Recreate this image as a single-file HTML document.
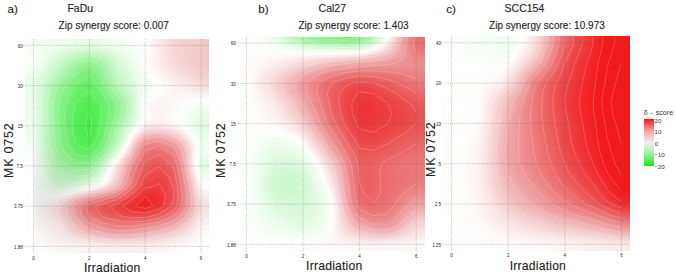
<!DOCTYPE html><html><head><meta charset="utf-8"><style>
*{margin:0;padding:0}
html,body{width:676px;height:276px;background:#fff;overflow:hidden;position:relative;font-family:"Liberation Sans",sans-serif;color:#222}
.hm{position:absolute;overflow:hidden}
.hm i{position:absolute;left:0;width:100%;height:2px;display:block}
.ov{position:absolute;left:0;top:0}
.tk{font-size:4.5px;fill:#222;font-family:"Liberation Sans",sans-serif}
.t{position:absolute;white-space:nowrap;line-height:1;-webkit-text-stroke:0.12px #222}
.yl{position:absolute;white-space:nowrap;line-height:1;-webkit-text-stroke:0.12px #222;transform-origin:0 0;transform:rotate(-90deg)}
</style></head><body>
<div class="hm" style="left:25.02px;top:39.09px;width:184.47px;height:213.62px">
<i style="top:0px;background:linear-gradient(90deg,#fafefa 0px,#edfced 41px,#e4fbe4 65px,#f8fef8 104px,#fffefe 121px,#f6d3d3 150px,#f3c6c7 181px,#f3c5c5 185px)"></i>
<i style="top:2px;background:linear-gradient(90deg,#fafefa 0px,#edfced 42px,#e6fbe6 66px,#f8fef8 104px,#fffefe 121px,#f6d3d4 150px,#f4c7c7 181px,#f3c6c6 185px)"></i>
<i style="top:4px;background:linear-gradient(90deg,#fafefa 0px,#edfced 39px,#e4fbe4 65px,#f8fef8 105px,#fffdfd 122px,#f6d4d4 150px,#f4c7c7 181px,#f3c6c6 185px)"></i>
<i style="top:6px;background:linear-gradient(90deg,#fafefa 0px,#f0fdf0 30px,#e0fae0 64px,#f7fef7 105px,#fffefe 121px,#f6d4d4 150px,#f4c7c7 181px,#f3c6c6 185px)"></i>
<i style="top:8px;background:linear-gradient(90deg,#fafefa 0px,#f1fdf1 25px,#dafada 63px,#e6fbe6 81px,#f6fef6 104px,#fffefe 121px,#f6d4d5 150px,#f4c7c7 181px,#f3c6c6 185px)"></i>
<i style="top:10px;background:linear-gradient(90deg,#fafefa 0px,#f1fdf1 22px,#d2f9d2 62px,#dafada 76px,#f2fdf2 99px,#fffefe 121px,#f6d5d5 150px,#f4c7c7 180px,#f3c6c6 185px)"></i>
<i style="top:12px;background:linear-gradient(90deg,#fbfefb 0px,#f3fdf3 19px,#caf8ca 61px,#cff8cf 73px,#eefcee 97px,#fffdfd 121px,#f6d5d5 150px,#f4c7c7 180px,#f3c5c6 185px)"></i>
<i style="top:14px;background:linear-gradient(90deg,#fcfefc 0px,#f4fdf4 17px,#cef8ce 48px,#c0f6c0 62px,#c7f7c7 73px,#eafcea 96px,#fffefe 120px,#f6d5d5 151px,#f3c6c6 181px,#f3c5c6 185px)"></i>
<i style="top:16px;background:linear-gradient(90deg,#fcfffc 0px,#f4fdf4 16px,#cbf8cb 46px,#b6f5b6 61px,#bbf6bb 71px,#e6fbe6 96px,#fffefe 120px,#f6d5d5 151px,#f3c6c6 180px,#f3c5c5 185px)"></i>
<i style="top:18px;background:linear-gradient(90deg,#fcfffc 0px,#f5fef5 14px,#c8f7c8 44px,#aef4ae 59px,#aef4ae 68px,#c8f7c8 82px,#e4fbe4 97px,#fffefe 120px,#f6d6d6 151px,#f3c6c6 180px,#f3c5c5 185px)"></i>
<i style="top:20px;background:linear-gradient(90deg,#fdfffd 0px,#f6fef6 13px,#c1f7c1 44px,#a4f4a4 59px,#a4f4a4 68px,#bdf6bd 80px,#dcfadc 94px,#fffefe 120px,#f6d7d7 151px,#f3c6c6 180px,#f3c5c5 185px)"></i>
<i style="top:22px;background:linear-gradient(90deg,#fdfffd 0px,#f6fef6 12px,#c3f7c3 41px,#9df39d 58px,#9af39a 66px,#abf4ab 76px,#d7f9d7 93px,#fffefe 120px,#f7d8d9 150px,#f4c7c7 178px,#f3c5c6 185px)"></i>
<i style="top:24px;background:linear-gradient(90deg,#fcfffc 0px,#f6fef6 12px,#bdf6bd 41px,#97f297 57px,#91f291 65px,#9ff39f 74px,#d4f9d4 93px,#ffffff 120px,#f7dbdb 149px,#f4c7c7 178px,#f3c6c6 185px)"></i>
<i style="top:26px;background:linear-gradient(90deg,#fcfefc 0px,#f6fef6 11px,#caf8ca 33px,#8ff28f 58px,#8cf18c 66px,#9df39d 75px,#d1f8d1 93px,#ffffff 120px,#f7dada 151px,#f4c8c8 179px,#f4c7c7 185px)"></i>
<i style="top:28px;background:linear-gradient(90deg,#fafefa 0px,#f6fef6 10px,#d4f9d4 27px,#a0f3a0 48px,#88f188 59px,#87f187 67px,#9ef39e 77px,#cef8ce 93px,#fefffe 120px,#f6d6d6 157px,#f4c8c9 182px,#f4c8c8 185px)"></i>
<i style="top:30px;background:linear-gradient(90deg,#f9fef9 0px,#f4fdf4 10px,#d2f9d2 26px,#86f186 57px,#81f181 65px,#8ef28e 73px,#ccf8cc 93px,#fbfefb 119px,#fffdfd 123px,#f7d8d8 157px,#f4c9ca 182px,#f4c9ca 185px)"></i>
<i style="top:32px;background:linear-gradient(90deg,#f6fef6 0px,#f2fdf2 10px,#cef8ce 26px,#81f181 57px,#7df07d 65px,#8bf18b 73px,#c8f7c8 92px,#f5fdf5 116px,#fffefe 124px,#f6d4d4 164px,#f4cbcb 185px)"></i>
<i style="top:34px;background:linear-gradient(90deg,#f4fdf4 0px,#f1fdf1 9px,#d2f9d2 23px,#7ff17f 56px,#78f078 64px,#85f185 72px,#c8f7c8 93px,#f5fdf5 117px,#fffefe 125px,#f5d1d2 170px,#f5cccd 185px)"></i>
<i style="top:36px;background:linear-gradient(90deg,#f2fdf2 0px,#eefdee 9px,#d1f9d1 22px,#7bf07b 56px,#75f075 64px,#82f182 72px,#c4f7c4 92px,#f0fdf0 115px,#ffffff 126px,#f5d1d2 173px,#f5cecf 185px)"></i>
<i style="top:38px;background:linear-gradient(90deg,#effdef 0px,#edfced 8px,#d4f9d4 20px,#81f181 51px,#72f072 61px,#76f076 68px,#92f292 78px,#c2f7c2 92px,#edfced 114px,#fffefe 128px,#f6d3d3 174px,#f5d0d1 185px)"></i>
<i style="top:40px;background:linear-gradient(90deg,#edfced 0px,#ebfceb 8px,#d0f8d0 20px,#9cf39c 39px,#74f074 56px,#6ff06f 64px,#7cf07c 72px,#c0f6c0 92px,#ecfcec 114px,#fffefe 129px,#f6d5d5 175px,#f6d3d3 185px)"></i>
<i style="top:42px;background:linear-gradient(90deg,#ebfceb 0px,#eafcea 8px,#d1f8d1 19px,#9cf39c 37px,#70f070 56px,#6cef6c 64px,#79f079 72px,#bef6be 92px,#eafcea 114px,#ffffff 130px,#f6d7d7 176px,#f6d6d6 185px)"></i>
<i style="top:44px;background:linear-gradient(90deg,#eafcea 0px,#e8fce8 8px,#cef8ce 19px,#99f299 37px,#6ff06f 55px,#69ef69 64px,#77f077 72px,#bdf6bd 93px,#edfced 116px,#fffefe 131px,#f7dada 176px,#f7d8d9 185px)"></i>
<i style="top:46px;background:linear-gradient(90deg,#e9fce9 0px,#e9fce9 7px,#d3f9d3 17px,#97f297 36px,#6cef6c 55px,#66ef66 64px,#74f074 72px,#baf6ba 93px,#ecfcec 116px,#ffffff 131px,#f8dddd 177px,#f7dcdc 185px)"></i>
<i style="top:48px;background:linear-gradient(90deg,#e9fce9 0px,#e9fce9 7px,#d2f9d2 17px,#94f294 36px,#69ef69 55px,#63ef63 64px,#70f070 72px,#b9f6b9 94px,#eefcee 117px,#fffefe 131px,#f8e1e1 177px,#f8e0e0 185px)"></i>
<i style="top:50px;background:linear-gradient(90deg,#e9fce9 0px,#e9fce9 7px,#d4f9d4 16px,#91f291 36px,#66ef66 55px,#61ef61 64px,#6def6d 72px,#b7f5b7 95px,#eefdee 117px,#ffffff 130px,#f9e5e5 178px,#f9e4e5 185px)"></i>
<i style="top:52px;background:linear-gradient(90deg,#eafcea 0px,#eafcea 7px,#d4f9d4 16px,#91f291 35px,#65ef65 54px,#5eef5e 64px,#6def6d 73px,#d2f9d2 106px,#f5fdf5 120px,#fffefe 129px,#faebeb 177px,#fae9ea 185px)"></i>
<i style="top:54px;background:linear-gradient(90deg,#eafcea 0px,#ebfceb 7px,#d4f9d4 16px,#8ff28f 35px,#63ef63 54px,#5cef5c 64px,#69ef69 73px,#f0fdf0 117px,#fffefe 127px,#fcf1f1 164px,#fbefef 185px)"></i>
<i style="top:56px;background:linear-gradient(90deg,#ebfceb 0px,#edfced 6px,#dbfadb 14px,#8df18d 35px,#61ef61 54px,#5aef5a 64px,#66ef66 73px,#b8f6b8 100px,#f1fdf1 117px,#ffffff 125px,#fdf7f7 140px,#fdf4f5 185px)"></i>
<i style="top:58px;background:linear-gradient(90deg,#ecfcec 0px,#eefcee 6px,#dbfadb 14px,#8bf18b 35px,#61ef61 53px,#58ee58 63px,#61ef61 72px,#8df28d 88px,#bbf6bb 102px,#f2fdf2 117px,#fffefe 124px,#fdf6f6 136px,#fefafa 185px)"></i>
<i style="top:60px;background:linear-gradient(90deg,#edfced 0px,#effdef 6px,#dcfadc 14px,#8cf18c 34px,#61ef61 52px,#56ee56 63px,#60ef60 73px,#8ef28e 90px,#b8f6b8 102px,#f0fdf0 116px,#fefffe 122px,#fdf5f5 133px,#fdfffd 179px,#fefefe 185px)"></i>
<i style="top:62px;background:linear-gradient(90deg,#eefcee 0px,#f0fdf0 6px,#dcfadc 14px,#8bf18b 34px,#5fef5f 52px,#55ee55 63px,#5eef5e 73px,#87f187 89px,#adf4ad 100px,#f1fdf1 116px,#fefffe 121px,#fcf4f4 132px,#fdfffd 167px,#fafefa 185px)"></i>
<i style="top:64px;background:linear-gradient(90deg,#effdef 0px,#f0fdf0 6px,#ddfadd 14px,#89f189 34px,#5fef5f 51px,#53ee53 62px,#5aef5a 72px,#7bf07b 86px,#a3f3a3 98px,#f2fdf2 116px,#fffefe 121px,#fcf3f3 130px,#fdfffd 163px,#f5fef5 182px,#f7fef7 185px)"></i>
<i style="top:66px;background:linear-gradient(90deg,#effdef 0px,#f1fdf1 6px,#ddfadd 14px,#88f188 34px,#5eef5e 51px,#51ee51 62px,#58ef58 72px,#7af07a 86px,#a2f3a2 98px,#f3fdf3 116px,#ffffff 120px,#fcf2f2 129px,#fefafa 153px,#fdfffd 161px,#f2fdf2 180px,#f3fdf3 185px)"></i>
<i style="top:68px;background:linear-gradient(90deg,#effdef 0px,#f1fdf1 6px,#ddfadd 14px,#87f187 34px,#5cef5c 51px,#50ee50 62px,#57ee57 72px,#79f079 86px,#a2f3a2 98px,#f4fdf4 116px,#fffefe 120px,#fcf2f2 128px,#fdf5f5 142px,#fdfffd 159px,#effdef 179px,#f1fdf1 185px)"></i>
<i style="top:70px;background:linear-gradient(90deg,#effdef 0px,#f1fdf1 6px,#e0fae0 13px,#87f187 34px,#5bee5b 51px,#4eee4e 62px,#56ee56 72px,#79f079 86px,#a2f3a2 98px,#f4fdf4 116px,#fffefe 120px,#fcf2f2 128px,#fdf5f5 142px,#fefffe 157px,#ecfcec 178px,#eefcee 185px)"></i>
<i style="top:72px;background:linear-gradient(90deg,#effdef 0px,#f1fdf1 6px,#e0fae0 13px,#86f186 34px,#58ee58 52px,#4dee4d 62px,#53ee53 71px,#74f074 84px,#a4f4a4 98px,#f4fdf4 116px,#fffefe 120px,#fcf1f2 129px,#fefafa 149px,#fefffe 156px,#eafcea 178px,#ebfceb 185px)"></i>
<i style="top:74px;background:linear-gradient(90deg,#effdef 0px,#f1fdf1 6px,#dcf9dc 14px,#86f086 34px,#57ee57 52px,#4bee4b 62px,#53ee53 71px,#75f075 84px,#aaf4aa 99px,#f4fdf4 116px,#ffffff 120px,#fcf2f2 129px,#fefafa 147px,#fefffe 155px,#e8fce8 178px,#e9fce9 185px)"></i>
<i style="top:76px;background:linear-gradient(90deg,#effdef 0px,#f1fdf1 6px,#dcf9dc 14px,#86f086 34px,#56ee56 52px,#4aee4a 62px,#52ee52 71px,#77f077 84px,#b1f5b1 100px,#f5fdf5 116px,#ffffff 120px,#fcf2f2 129px,#fefafa 146px,#fefffe 154px,#e6fbe6 177px,#e7fbe7 185px)"></i>
<i style="top:78px;background:linear-gradient(90deg,#effdef 0px,#f1fdf1 6px,#dcf9dc 14px,#86f086 34px,#53ee53 53px,#49ee49 63px,#52ee52 71px,#76f076 83px,#b8f6b8 101px,#f5fef5 116px,#fffefe 120px,#fcf2f2 129px,#fef9fa 146px,#fefffe 154px,#e4fbe4 177px,#e5fbe5 185px)"></i>
<i style="top:80px;background:linear-gradient(90deg,#effdef 0px,#f1fdf1 6px,#dcf9dc 14px,#83f083 35px,#52ee52 53px,#48ee48 62px,#4fee4f 70px,#70f070 81px,#c4f7c4 103px,#f7fef7 116px,#ffffff 119px,#fcf1f1 128px,#fdf5f5 142px,#fefffe 154px,#e3fbe3 177px,#e4fbe4 185px)"></i>
<i style="top:82px;background:linear-gradient(90deg,#effdef 0px,#f1fdf1 6px,#dcf9dc 14px,#84f084 35px,#52ee52 53px,#47ee47 62px,#4fee4f 70px,#72f072 81px,#d4f9d4 106px,#fcfffc 117px,#fefcfc 119px,#fbefef 128px,#fcf3f3 142px,#fefffe 155px,#e2fbe2 176px,#e3fbe3 185px)"></i>
<i style="top:84px;background:linear-gradient(90deg,#effdef 0px,#f1fdf1 6px,#dcf9dc 14px,#84f084 35px,#51ee51 53px,#47ee47 62px,#4fee4f 70px,#74f074 81px,#fafefa 115px,#fffefe 117px,#fbeded 126px,#fbeced 138px,#fdfffd 157px,#e2fbe2 176px,#e3fbe3 185px)"></i>
<i style="top:86px;background:linear-gradient(90deg,#f0fdf0 0px,#f1fdf1 6px,#dcf8dc 14px,#84ef84 35px,#4fee4f 54px,#47ee47 63px,#52ee52 71px,#7ef07e 83px,#fbfefb 114px,#fefcfc 116px,#fae9e9 124px,#f9e5e6 135px,#fdf8f8 154px,#fefffe 158px,#e2fbe2 175px,#e2fbe2 184px,#e3fbe3 185px)"></i>
<i style="top:88px;background:linear-gradient(90deg,#f0fdf0 0px,#f1fdf1 6px,#dcf8dc 14px,#85ef85 35px,#4fed4f 54px,#47ee47 63px,#50ee50 70px,#73f073 80px,#fdfffd 113px,#f9e4e5 122px,#f8dddd 132px,#fbeded 151px,#fefffe 160px,#e3fbe3 175px,#e2fbe2 184px,#e3fbe3 185px)"></i>
<i style="top:90px;background:linear-gradient(90deg,#f0fdf0 0px,#f2fdf2 6px,#dcf8dc 14px,#85ef85 35px,#50ed50 54px,#47ed47 63px,#51ee51 70px,#74f074 80px,#ddfadd 104px,#fdfffd 111px,#fdf8f8 113px,#f8dfdf 120px,#f6d4d4 129px,#f7dadb 142px,#fbeeee 155px,#fefffe 162px,#e5fbe5 175px,#e3fbe3 184px,#e5fbe5 185px)"></i>
<i style="top:92px;background:linear-gradient(90deg,#f1fdf1 0px,#f2fdf2 6px,#dff8df 13px,#85ef85 35px,#50ed50 54px,#48ed48 63px,#52ee52 70px,#75f075 80px,#d8f9d8 102px,#fbfefb 109px,#fefdfd 110px,#f7dada 118px,#f4cacb 126px,#f4cbcb 137px,#f8e1e1 153px,#fefffe 164px,#e5fbe5 176px,#e5fbe5 184px,#e7fbe7 185px)"></i>
<i style="top:94px;background:linear-gradient(90deg,#f1fdf1 0px,#f3fdf3 6px,#e0f8e0 13px,#86ef86 35px,#50ed50 54px,#48ed48 62px,#50ee50 69px,#6eef6e 78px,#d3f9d3 100px,#fdfefd 108px,#f6d2d2 117px,#f3c1c1 124px,#f2bdbe 134px,#f6d3d3 151px,#fffefe 165px,#e7fbe7 177px,#e7fce7 184px,#e9fce9 185px)"></i>
<i style="top:96px;background:linear-gradient(90deg,#f2fdf2 0px,#f3fdf3 6px,#e3f8e3 12px,#a9f1a9 26px,#80ee80 37px,#51ed51 54px,#49ed49 62px,#51ee51 69px,#70ef70 78px,#d2f9d2 99px,#fafefa 106px,#fefdfd 107px,#f5cfcf 115px,#f1b8b8 122px,#f0b0b1 131px,#f2bdbd 144px,#f5d1d1 154px,#fefefe 167px,#e9fce9 177px,#eafcea 184px,#ecfcec 185px)"></i>
<i style="top:98px;background:linear-gradient(90deg,#f3fdf3 0px,#f4fdf4 6px,#e6f8e6 11px,#bcf3bc 22px,#87ee87 35px,#52ed52 54px,#4aed4a 62px,#53ee53 69px,#71ef71 78px,#d1f8d1 98px,#fbfefb 105px,#fefcfc 106px,#f4c9c9 114px,#f0b1b1 120px,#efa5a5 128px,#efaaab 139px,#f3c1c2 152px,#fffefe 168px,#ebfceb 178px,#eefcee 185px)"></i>
<i style="top:100px;background:linear-gradient(90deg,#f3fdf3 0px,#f4fdf4 6px,#eefbee 9px,#bcf2bc 22px,#88ee88 35px,#54ec54 54px,#4ced4c 62px,#55ee55 69px,#74ef74 78px,#d0f8d0 97px,#fcfffc 104px,#fefbfb 105px,#f3c4c4 113px,#efa8a9 119px,#ee9a9a 127px,#ee9d9d 137px,#f1b8b8 152px,#fbecec 165px,#fefdfd 169px,#fbfefb 171px,#ecfcec 179px,#f1fdf1 185px)"></i>
<i style="top:102px;background:linear-gradient(90deg,#f4fdf4 0px,#f5fef5 6px,#effbef 9px,#b8f1b8 23px,#89ed89 35px,#55ec55 54px,#4eed4e 62px,#57ee57 69px,#76f076 78px,#d5f9d5 97px,#fcfefc 103px,#fefbfb 104px,#f2c0c0 112px,#eea1a2 118px,#ed9192 125px,#ed8f90 134px,#efa7a8 149px,#f3c6c7 158px,#fefdfd 170px,#f8fef8 173px,#edfced 180px,#f3fdf3 185px)"></i>
<i style="top:104px;background:linear-gradient(90deg,#f5fdf5 0px,#f6fef6 6px,#effbef 9px,#c6f2c6 20px,#8ded8d 34px,#5aec5a 53px,#51ed51 62px,#5bee5b 69px,#7af07a 78px,#d4f9d4 96px,#fbfefb 102px,#fefbfb 103px,#f1b7b8 112px,#ed9899 118px,#ec8889 125px,#ec8687 134px,#ee9c9d 148px,#f1b7b7 156px,#fffefe 171px,#effdef 179px,#f4fdf4 185px)"></i>
<i style="top:106px;background:linear-gradient(90deg,#f5fef5 0px,#f7fef7 6px,#f0fbf0 9px,#def5de 14px,#8eed8e 34px,#5cec5c 53px,#54ed54 62px,#5eee5e 69px,#7ef07e 78px,#dafada 96px,#fbfefb 101px,#fefcfc 102px,#f1b6b6 111px,#ed9191 118px,#ec8081 125px,#ec7e7f 134px,#ed9394 147px,#efa8a9 154px,#fefcfc 171px,#fefffe 172px,#effdef 179px,#f3fdf3 184px,#f5fdf5 185px)"></i>
<i style="top:108px;background:linear-gradient(90deg,#f6fef6 0px,#f8fef8 6px,#f1fbf1 9px,#e5f6e5 12px,#8dec8d 35px,#5fec5f 53px,#58ed58 62px,#63ee63 69px,#84f084 78px,#e0fae0 96px,#fbfefb 100px,#fefcfc 101px,#f0afaf 111px,#ec8a8b 118px,#eb7a7b 125px,#eb7879 134px,#ec8d8d 147px,#eea3a3 154px,#fefbfb 171px,#fefffe 172px,#effdef 179px,#f2fdf2 184px,#f5fdf5 185px)"></i>
<i style="top:110px;background:linear-gradient(90deg,#f7fef7 0px,#f9fef9 6px,#f2fbf2 9px,#e6f5e6 12px,#8fec8f 35px,#63ec63 53px,#5ded5d 62px,#68ee68 69px,#8af18a 78px,#eefcee 97px,#fbfefb 99px,#fefbfb 100px,#f0afaf 110px,#ec8889 117px,#eb7677 124px,#eb7273 133px,#ec8283 145px,#ed999a 153px,#f5cfcf 163px,#fefbfb 171px,#fefffe 172px,#effdef 178px,#effdef 183px,#f4fdf4 185px)"></i>
<i style="top:112px;background:linear-gradient(90deg,#f8fef8 0px,#fafefa 6px,#f3fbf3 9px,#e9f5e9 11px,#b9eeb9 24px,#91eb91 35px,#67eb67 53px,#62ed62 62px,#6eee6e 69px,#91f191 78px,#f7fef7 97px,#fdfffd 98px,#fcf2f2 100px,#eea2a2 111px,#ec7f80 118px,#eb6f70 126px,#eb6f70 136px,#ec8485 148px,#ee9e9f 155px,#fefcfc 171px,#f9fef9 173px,#ecfcec 179px,#f0fdf0 184px,#f3fdf3 185px)"></i>
<i style="top:114px;background:linear-gradient(90deg,#fafefa 0px,#fbfefb 6px,#f4fbf4 9px,#eaf5ea 11px,#b6edb6 25px,#91eb91 36px,#6ceb6c 53px,#68ed68 62px,#75ee75 69px,#99f299 78px,#fefdfc 97px,#ee9b9c 111px,#eb7b7c 118px,#eb6a6c 126px,#eb6a6b 136px,#ec7f80 148px,#ee9b9b 155px,#fffdfd 171px,#ebfceb 178px,#ecfcec 183px,#f1fdf1 185px)"></i>
<i style="top:116px;background:linear-gradient(90deg,#fbfefb 0px,#fdfffd 6px,#f5fbf5 9px,#ebf4eb 11px,#b4ecb4 26px,#93ea93 36px,#71eb71 53px,#6eed6e 62px,#7cef7c 69px,#a1f3a1 78px,#fcfefc 95px,#fefbfb 96px,#ee9b9c 110px,#eb7a7b 117px,#eb6869 125px,#eb6566 135px,#eb7576 146px,#ec8d8e 153px,#f3c3c4 162px,#ffffff 171px,#eafcea 177px,#e8fce8 182px,#effdef 185px)"></i>
<i style="top:118px;background:linear-gradient(90deg,#fcfffc 0px,#fdfffd 7px,#f6fbf6 9px,#eff5ef 10px,#c1edc1 23px,#98ea98 35px,#76eb76 53px,#75ed75 62px,#83ef83 69px,#aaf3aa 78px,#fbfefb 93px,#fefdfc 94px,#ed9696 110px,#eb7374 118px,#eb6264 127px,#eb6364 137px,#eb7677 148px,#ed8e8f 154px,#f4c9c9 163px,#fefafa 170px,#fefffe 171px,#e8fce8 177px,#e6fbe6 182px,#edfced 185px)"></i>
<i style="top:120px;background:linear-gradient(90deg,#fdfffd 0px,#fdfffd 8px,#eff4ef 10px,#bfecbf 24px,#9be99b 35px,#7ceb7c 53px,#7bed7b 62px,#8bef8b 69px,#b3f4b3 78px,#fafefa 91px,#fdfdfc 92px,#f3c6c6 101px,#ec8687 112px,#eb6c6d 119px,#eb5e5f 129px,#eb6162 139px,#eb7576 149px,#ed9192 155px,#f9e6e6 167px,#fefbfb 170px,#fdfffd 171px,#e6fbe6 177px,#e4fbe4 182px,#ecfcec 185px)"></i>
<i style="top:122px;background:linear-gradient(90deg,#fefffe 0px,#fefffe 8px,#f0f4f0 10px,#bdebbd 25px,#9ce99c 36px,#81eb81 53px,#82ed82 62px,#92f092 69px,#c0f6c0 79px,#fdfefd 90px,#fbefef 93px,#ec8b8c 110px,#eb6b6d 118px,#eb5b5d 128px,#eb5c5d 138px,#eb6e70 148px,#ec8889 154px,#f4c7c7 163px,#fefbfb 170px,#fdfffd 171px,#e5fbe5 177px,#e3fbe3 182px,#ebfceb 185px)"></i>
<i style="top:124px;background:linear-gradient(90deg,#ffffff 0px,#fefcfd 6px,#ffffff 8px,#f0f3f0 10px,#a3e9a3 34px,#88eb88 52px,#88ed88 61px,#97f097 68px,#bef5be 77px,#fbfefb 88px,#fefdfc 89px,#ec8b8c 109px,#eb6b6c 117px,#eb595a 127px,#eb595a 138px,#eb6b6c 148px,#ec8586 154px,#f2bdbe 162px,#fefbfb 170px,#fdfffd 171px,#e5fbe5 177px,#e2fbe2 182px,#eafcea 185px)"></i>
<i style="top:126px;background:linear-gradient(90deg,#ffffff 0px,#fefcfc 6px,#fffefe 8px,#f0f2f0 10px,#a8e8a8 33px,#8eeb8e 51px,#8fee8f 61px,#9ef09e 68px,#c5f6c5 77px,#fcfefc 87px,#fefbfb 88px,#ec8b8c 108px,#eb6768 117px,#eb5657 127px,#eb5557 138px,#eb6869 148px,#ec8283 154px,#f2bbbb 162px,#fefafa 170px,#fefffe 171px,#e5fbe5 177px,#e2fbe2 182px,#ebfceb 185px)"></i>
<i style="top:128px;background:linear-gradient(90deg,#fffefe 0px,#fefbfb 6px,#fffefe 8px,#fafafa 9px,#f0f2f0 10px,#abe8ab 33px,#94eb94 51px,#96ee96 61px,#a9f2a9 69px,#d6f8d6 79px,#fcfefc 86px,#fcf5f5 88px,#ec8283 109px,#eb6162 118px,#ec5153 129px,#eb5456 140px,#eb6869 149px,#ec8586 155px,#f4c9c9 164px,#fffffe 171px,#e6fbe6 177px,#e4fbe4 182px,#ecfcec 185px)"></i>
<i style="top:130px;background:linear-gradient(90deg,#fffefe 0px,#fefbfb 6px,#fffdfe 8px,#fafafa 9px,#f0f1f0 10px,#aee7ae 33px,#9aeb9a 51px,#9dee9d 61px,#b0f2b0 69px,#e1fae1 80px,#fbfefb 85px,#fefcfc 86px,#ec898a 107px,#eb6365 116px,#ec5253 125px,#ec4e4f 136px,#eb5c5e 146px,#eb7172 152px,#ee9e9f 159px,#fefcfc 171px,#f7fef7 173px,#e6fbe6 178px,#e6fbe6 182px,#eefdee 185px)"></i>
<i style="top:132px;background:linear-gradient(90deg,#fffefe 0px,#fefcfc 7px,#fffdfd 8px,#fafafa 9px,#eff0ef 10px,#b1e7b1 33px,#9feb9f 51px,#a6efa6 62px,#baf3ba 70px,#f0fcf0 82px,#fefdfd 85px,#ec8687 107px,#eb6162 116px,#ec4f51 125px,#ec4b4d 136px,#eb5a5b 146px,#eb6e70 152px,#ee9b9c 159px,#fef9f9 171px,#fefffe 172px,#ebfceb 177px,#e8fce8 182px,#f1fdf1 185px)"></i>
<i style="top:134px;background:linear-gradient(90deg,#fffefe 0px,#fefcfc 7px,#fffdfd 8px,#f9f9f9 9px,#eff0ef 10px,#b4e7b4 33px,#a6eba6 50px,#abefab 61px,#c1f4c1 70px,#f9fdf9 83px,#fdfefd 84px,#eb7f80 108px,#eb5b5c 117px,#ec4a4c 127px,#ec4a4c 138px,#eb5c5e 148px,#eb7778 154px,#f0afb0 162px,#fefcfc 172px,#fdfffd 173px,#ecfcec 178px,#ebfceb 182px,#f4fdf4 185px)"></i>
<i style="top:136px;background:linear-gradient(90deg,#ffffff 0px,#fefdfd 7px,#fffefe 8px,#f9f9f9 9px,#eeefee 10px,#b7e7b7 33px,#acebac 50px,#b4f0b4 62px,#cbf5cb 71px,#fcfefc 83px,#fbf0f0 86px,#eb7879 109px,#eb595a 117px,#ec484a 127px,#ec4849 138px,#eb5a5b 148px,#eb7475 154px,#f0acad 162px,#fdf8f8 172px,#fffefe 173px,#eefcee 179px,#f1fdf1 183px,#f8fef8 185px)"></i>
<i style="top:138px;background:linear-gradient(90deg,#ffffff 0px,#fffdfd 7px,#fffefe 8px,#f9f9f9 9px,#edeeed 10px,#bae6ba 33px,#b3ecb3 50px,#bdf1bd 62px,#d6f7d6 72px,#fcfefc 82px,#fbf1f1 85px,#eea0a1 101px,#eb6869 112px,#ec4f50 120px,#ed4445 131px,#ec4b4c 142px,#eb5f60 150px,#eb7e7f 156px,#fbeded 171px,#fefefe 174px,#f2fdf2 179px,#f4fdf4 183px,#fbfefb 185px)"></i>
<i style="top:140px;background:linear-gradient(90deg,#ffffff 0px,#fffefe 8px,#f8f9f8 9px,#edeeed 10px,#bfe6bf 32px,#b9ebb9 48px,#c4f2c4 61px,#ddf8dd 72px,#fdfdfc 81px,#f0b4b5 97px,#eb6567 112px,#ec4c4e 120px,#ed4143 131px,#ec494b 142px,#eb5d5e 150px,#ec8283 157px,#fcf0f0 172px,#fefffe 175px,#f5fdf5 180px,#fbfefb 184px,#fefffe 185px)"></i>
<i style="top:142px;background:linear-gradient(90deg,#fefffe 0px,#fffefe 8px,#f8f8f8 9px,#ecedec 10px,#c3e6c3 32px,#c0ebc0 47px,#cdf3cd 61px,#e9f9e9 73px,#fcfdfb 79px,#fbf3f3 82px,#f0b1b1 97px,#eb6364 112px,#ec4a4b 120px,#ed3f41 131px,#ec4849 142px,#eb5b5d 150px,#ec8081 157px,#fbecec 172px,#fefefe 176px,#f9fef9 181px,#fefffe 184px,#fefbfb 185px)"></i>
<i style="top:144px;background:linear-gradient(90deg,#fefffe 0px,#ffffff 8px,#f8f8f8 9px,#ecedec 10px,#c7e6c7 32px,#c7ecc7 47px,#d8f4d8 62px,#fcfbfa 77px,#f3c3c3 92px,#eb5f61 112px,#ec4749 120px,#ed3d3f 131px,#ec4648 142px,#eb5a5b 150px,#eb7e7f 157px,#fae8e8 172px,#fffefe 177px,#fdfffd 182px,#fefcfc 184px,#fdf8f8 185px)"></i>
<i style="top:146px;background:linear-gradient(90deg,#fefffe 0px,#ffffff 8px,#f8f8f8 9px,#ecedec 10px,#cbe6cb 31px,#ccebcc 44px,#e2f5e2 61px,#fafaf9 73px,#faeded 78px,#f0afb0 95px,#eb5b5d 112px,#ed4446 120px,#ee3c3d 131px,#ed4547 142px,#eb5d5e 151px,#ec8384 158px,#f9e5e5 172px,#fefbfb 177px,#fffefe 182px,#fdf4f5 185px)"></i>
<i style="top:148px;background:linear-gradient(90deg,#fdfffd 0px,#ffffff 8px,#f8f8f8 9px,#ececec 10px,#d0e7d0 31px,#d3ebd3 43px,#eef7ee 61px,#f8f8f6 67px,#f9efef 72px,#f1bcbd 89px,#ed9394 99px,#eb5658 112px,#ed4042 120px,#ee393b 131px,#ed4446 142px,#eb5c5d 151px,#ec8283 158px,#f9e2e2 172px,#fdf7f7 177px,#fefcfc 181px,#fcf2f2 185px)"></i>
<i style="top:150px;background:linear-gradient(90deg,#fdfffd 0px,#ffffff 8px,#f8f8f8 9px,#ececec 10px,#d5e7d5 30px,#daebda 41px,#f5f4f3 58px,#f7eded 64px,#f2c4c4 82px,#ed9697 96px,#ec5051 112px,#ee3c3d 120px,#ee3638 131px,#ed4344 142px,#eb5b5d 151px,#ec8182 158px,#f8dfdf 172px,#fcf4f4 177px,#fdf8f8 181px,#fbeeef 185px)"></i>
<i style="top:152px;background:linear-gradient(90deg,#fcfffc 0px,#ffffff 8px,#f8f8f8 9px,#ececec 10px,#dbe8db 30px,#e3ede3 41px,#f1f0ef 50px,#f3dfdf 61px,#efaeae 84px,#ec8586 97px,#ed4547 113px,#ee3537 121px,#ef3436 132px,#ed4647 144px,#eb5f60 152px,#ec8d8e 160px,#f7dcdc 172px,#fcf0f0 177px,#fcf4f4 182px,#fbebec 185px)"></i>
<i style="top:154px;background:linear-gradient(90deg,#fcfffc 0px,#ffffff 8px,#ececec 10px,#e0e8e0 29px,#eaedea 40px,#efebeb 45px,#ec9394 88px,#eb7071 99px,#ed3e40 113px,#ef3032 121px,#ef3133 132px,#ed4546 144px,#eb5e5f 152px,#ec8b8c 160px,#f7d9d9 172px,#fbefef 178px,#fbefef 183px,#fae8e9 185px)"></i>
<i style="top:156px;background:linear-gradient(90deg,#fbfefb 0px,#ffffff 8px,#ececec 10px,#e5e9e5 28px,#ece8e8 39px,#ecc1c1 57px,#eb7778 93px,#ee3739 113px,#f02b2d 122px,#ef3133 134px,#ec4c4e 147px,#eb6769 154px,#f4cbcb 170px,#fae6e7 176px,#fbeeee 181px,#f9e6e6 185px)"></i>
<i style="top:158px;background:linear-gradient(90deg,#fbfefb 0px,#ffffff 8px,#ececec 10px,#eae8e8 31px,#ead8d9 42px,#e99b9b 66px,#eb6768 94px,#ef3132 113px,#f12728 122px,#ef2f31 134px,#ec4c4e 147px,#eb6869 154px,#f5cece 171px,#f9e6e6 177px,#faeaea 182px,#f9e3e3 185px)"></i>
<i style="top:160px;background:linear-gradient(90deg,#fafefa 0px,#ffffff 8px,#ececec 10px,#e9dede 34px,#e8c6c6 45px,#e78e8f 64px,#eb5658 96px,#f02b2d 113px,#f22425 122px,#f02e30 134px,#ec5051 148px,#eb7374 156px,#f5d1d1 172px,#f9e5e6 178px,#f9e6e6 183px,#f8e1e1 185px)"></i>
<i style="top:162px;background:linear-gradient(90deg,#fafefa 0px,#ffffff 8px,#edecec 10px,#e8dada 33px,#e6c3c3 43px,#e68384 63px,#ea6364 83px,#ec4647 99px,#f12628 114px,#f22224 124px,#ef3234 136px,#eb585a 150px,#ec8586 159px,#f5cfcf 172px,#f9e3e3 178px,#f9e4e4 183px,#f8dfdf 185px)"></i>
<i style="top:164px;background:linear-gradient(90deg,#fafefa 0px,#ffffff 8px,#edecec 10px,#e7d5d5 33px,#e5bcbc 43px,#e67b7c 62px,#e96162 77px,#ed4244 98px,#f22426 114px,#f22325 124px,#ef3436 136px,#eb5b5c 150px,#ec8687 159px,#f5cece 172px,#f9e1e2 178px,#f9e2e3 183px,#f8dede 185px)"></i>
<i style="top:166px;background:linear-gradient(90deg,#f9fef9 0px,#ffffff 8px,#ededed 10px,#e7d4d4 32px,#e5bbbb 42px,#e57778 61px,#e95e60 74px,#ed3f41 98px,#f12527 114px,#f12527 124px,#ee393b 137px,#eb6263 151px,#ed999a 162px,#f6d2d2 173px,#f9e2e2 179px,#f8e0e0 184px,#f8ddde 185px)"></i>
<i style="top:168px;background:linear-gradient(90deg,#f9fef9 0px,#ffffff 8px,#eeeded 10px,#e7d2d2 32px,#e5b8b9 42px,#e57475 61px,#e95b5d 74px,#ed3b3d 100px,#f12729 115px,#f02b2d 126px,#ed4345 139px,#eb6b6c 152px,#f6d3d3 173px,#f9e2e2 179px,#f8e0e0 184px,#f8dede 185px)"></i>
<i style="top:170px;background:linear-gradient(90deg,#f9fef9 0px,#ffffff 8px,#eeeeee 10px,#e7d2d2 32px,#e5b8b9 42px,#e57374 61px,#e95b5d 74px,#ee3738 105px,#f02d2e 118px,#ee3739 130px,#eb5a5b 145px,#eb797a 154px,#f5d0d1 172px,#f9e3e3 179px,#f8e1e1 184px,#f8dfdf 185px)"></i>
<i style="top:172px;background:linear-gradient(90deg,#fafefa 0px,#ffffff 8px,#efeeee 10px,#e8d3d3 32px,#e6b9ba 42px,#e67677 61px,#e95e5f 74px,#ef3537 114px,#ee3a3c 126px,#eb5759 141px,#eb7c7d 153px,#f6d3d3 172px,#f9e4e4 179px,#f9e2e3 184px,#f8e0e1 185px)"></i>
<i style="top:174px;background:linear-gradient(90deg,#fafefa 0px,#ffffff 8px,#f0efef 10px,#e9d5d5 32px,#e7bcbc 42px,#e67a7b 61px,#e96162 75px,#ed3f40 112px,#ed4344 124px,#eb5c5e 139px,#ec8485 153px,#f6d6d6 172px,#f9e6e6 179px,#f9e3e3 185px)"></i>
<i style="top:176px;background:linear-gradient(90deg,#fafefa 0px,#ffffff 8px,#f0f0f0 10px,#ead5d6 33px,#e8bcbd 43px,#e77d7e 62px,#ea6364 78px,#ec4a4b 110px,#ec4e50 124px,#eb696a 140px,#ec8c8d 153px,#f7dcdc 173px,#fae9e9 180px,#f9e5e5 185px)"></i>
<i style="top:178px;background:linear-gradient(90deg,#fafefa 0px,#ffffff 8px,#f1f0f0 10px,#ebd8d9 33px,#e9bdbe 44px,#e78485 62px,#ea6869 80px,#eb5556 107px,#eb5a5b 123px,#eb7475 140px,#ed9596 153px,#f8dfe0 173px,#fbebeb 180px,#fae8e8 185px)"></i>
<i style="top:180px;background:linear-gradient(90deg,#fafefa 0px,#ffffff 8px,#f2f1f1 10px,#ecdbdc 33px,#eac2c3 44px,#e88c8d 62px,#ea6e6f 81px,#eb6061 103px,#eb6566 121px,#eb7e7f 139px,#ee9f9f 153px,#f9e3e3 173px,#fbeeee 181px,#faebeb 185px)"></i>
<i style="top:182px;background:linear-gradient(90deg,#fbfefb 0px,#ffffff 8px,#f3f2f2 10px,#eddddd 34px,#ebc1c2 46px,#e99293 63px,#ea7374 84px,#eb6a6b 103px,#eb7576 124px,#ed9394 144px,#f0b1b1 156px,#fae6e6 173px,#fcf0f0 181px,#fbeded 185px)"></i>
<i style="top:184px;background:linear-gradient(90deg,#fbfefb 0px,#ffffff 8px,#f3f3f3 10px,#efe0e0 34px,#ecc6c7 46px,#ea9898 64px,#eb7a7b 85px,#eb7475 102px,#ec8384 126px,#efa5a5 148px,#f6d4d5 165px,#fbeeef 176px,#fcf1f1 184px,#fcf0f0 185px)"></i>
<i style="top:186px;background:linear-gradient(90deg,#fbfefb 0px,#ffffff 8px,#f4f4f4 10px,#f0e2e2 34px,#edc8c8 47px,#eb9f9f 64px,#eb8182 86px,#eb7d7e 102px,#ed9394 130px,#f1b3b4 151px,#fbeeee 174px,#fcf4f4 182px,#fcf2f2 185px)"></i>
<i style="top:188px;background:linear-gradient(90deg,#fcfefc 0px,#ffffff 8px,#f5f4f4 10px,#f1e3e3 35px,#eec4c5 50px,#eca3a3 66px,#ec898a 87px,#ec8788 103px,#eea3a4 135px,#f3c2c2 154px,#fcf0f0 174px,#fdf5f5 183px,#fcf3f4 185px)"></i>
<i style="top:190px;background:linear-gradient(90deg,#fcfffc 0px,#ffffff 8px,#f6f5f5 10px,#f2e4e4 36px,#eebabb 57px,#ed9899 80px,#ec8f90 96px,#ee9e9f 120px,#f2bebf 148px,#fcf3f3 175px,#fdf6f6 184px,#fdf5f5 185px)"></i>
<i style="top:192px;background:linear-gradient(90deg,#fcfffc 0px,#ffffff 8px,#f6f5f5 11px,#f3e5e5 37px,#efb1b1 68px,#ee9c9d 90px,#eea0a0 108px,#f2bfbf 142px,#f8dede 161px,#fdf6f6 176px,#fdf7f7 185px)"></i>
<i style="top:194px;background:linear-gradient(90deg,#fdfffd 0px,#ffffff 8px,#f7f6f6 11px,#f4e6e7 38px,#f0b8b9 70px,#efa7a8 92px,#f0afaf 113px,#f5cece 147px,#fdf7f7 176px,#fdf8f8 185px)"></i>
<i style="top:196px;background:linear-gradient(90deg,#fdfffd 0px,#ffffff 8px,#f7f7f7 11px,#f5e7e7 40px,#f2c0c0 73px,#f1b4b4 94px,#f2bfc0 121px,#f8e1e1 156px,#fefafa 177px,#fefafa 185px)"></i>
<i style="top:198px;background:linear-gradient(90deg,#fefffe 0px,#fdfcfc 9px,#f8f8f8 11px,#f5e7e7 43px,#f3c6c7 79px,#f3c1c1 100px,#f6d3d3 134px,#fefbfb 178px,#fefbfb 185px)"></i>
<i style="top:200px;background:linear-gradient(90deg,#fefffe 0px,#fdfdfd 9px,#f8f8f8 12px,#f6e7e7 48px,#f5cdcd 90px,#f6d2d2 119px,#fefdfd 179px,#fefdfd 185px)"></i>
<i style="top:202px;background:linear-gradient(90deg,#fefffe 0px,#fdfdfd 9px,#f9f8f8 13px,#f6d7d8 96px,#f8dfdf 128px,#fffdfe 178px,#fffefe 185px)"></i>
<i style="top:204px;background:linear-gradient(90deg,#fefffe 0px,#fdfdfd 9px,#f9f8f8 16px,#f8e1e1 102px,#fae8e8 131px,#fffefe 177px,#ffffff 185px)"></i>
<i style="top:206px;background:linear-gradient(90deg,#ffffff 0px,#fdfdfd 9px,#f9f6f6 26px,#fae8e8 113px,#ffffff 175px,#fefffe 185px)"></i>
<i style="top:208px;background:linear-gradient(90deg,#ffffff 0px,#fefefe 9px,#faf4f4 44px,#fbeeee 120px,#fffefe 163px,#fefffe 185px)"></i>
<i style="top:210px;background:linear-gradient(90deg,#ffffff 0px,#fefefe 9px,#fbf5f5 47px,#fcf0f0 118px,#ffffff 161px,#fefffe 185px)"></i>
<i style="top:212px;background:linear-gradient(90deg,#ffffff 0px,#fefefe 9px,#fbf4f4 55px,#fbeeee 106px,#ffffff 161px,#fdfffd 185px)"></i>
</div>
<svg class="ov" width="676" height="276">
<clipPath id="cpa"><rect x="33.40" y="39.09" width="167.70" height="213.62"/></clipPath>
<path clip-path="url(#cpa)" d="M90.0,135.8 91.4,125.8 90.5,115.8 89.3,112.7 87.2,115.8 85.0,125.8 87.6,135.8 89.3,137.4 90.0,135.8 M93.0,145.9 97.8,135.8 99.7,125.8 101.8,115.8 100.7,105.7 93.0,95.7 89.3,89.9 82.1,95.7 75.3,103.4 74.5,105.7 72.4,115.8 72.2,125.8 73.2,135.8 75.3,142.5 78.7,145.9 89.3,149.7 93.0,145.9 M90.5,156.0 100.3,145.9 103.3,140.0 104.7,135.8 106.4,125.8 108.9,115.8 109.6,105.7 104.0,95.7 103.3,94.5 95.9,85.6 89.7,75.5 89.3,75.1 88.5,75.5 75.3,84.7 74.6,85.6 69.2,95.7 65.7,105.7 64.6,115.8 65.0,125.8 66.0,135.8 68.9,145.9 75.3,154.5 81.2,156.0 89.3,157.1 90.5,156.0 M96.8,156.0 103.3,149.6 106.0,145.9 109.5,135.8 111.8,125.8 115.4,115.8 117.2,105.7 111.1,95.7 104.4,85.6 103.3,82.8 99.1,75.5 89.3,65.5 75.3,73.7 73.6,75.5 65.8,85.6 61.3,93.6 60.6,95.7 58.6,105.7 58.1,115.8 58.6,125.8 59.4,135.8 61.3,145.9 67.4,156.0 75.3,162.6 89.3,163.0 96.8,156.0 M92.3,166.0 103.2,156.0 103.3,155.8 110.5,145.9 114.4,135.8 117.2,125.8 121.1,115.8 122.5,105.7 118.1,95.7 117.2,94.5 110.8,85.6 107.0,75.5 103.3,68.4 100.8,65.5 89.3,60.4 75.3,65.0 74.6,65.5 65.2,75.5 61.3,80.3 57.7,85.6 54.3,95.7 53.0,105.7 52.7,115.8 53.1,125.8 53.9,135.8 55.5,145.9 59.1,156.0 61.3,160.0 67.9,166.0 75.3,170.0 89.3,169.0 92.3,166.0 M81.8,176.1 89.3,175.0 98.2,166.0 103.3,161.3 107.5,156.0 115.0,145.9 117.2,140.4 119.0,135.8 122.8,125.8 126.6,115.8 127.8,105.7 124.9,95.7 117.2,85.6 113.7,75.5 109.4,65.5 103.3,60.3 89.6,55.5 89.3,55.4 88.9,55.5 75.3,58.8 65.8,65.5 61.3,70.3 56.6,75.5 50.3,85.6 48.1,95.7 47.5,105.7 47.4,110.9 47.3,115.8 47.4,118.1 47.6,125.8 48.3,135.8 49.7,145.9 52.7,156.0 57.5,166.0 61.3,171.5 71.7,176.1 75.3,176.9 81.8,176.1 M95.4,176.1 103.3,167.2 103.9,166.0 111.8,156.0 117.2,148.8 119.1,145.9 123.4,135.8 128.4,125.8 131.2,117.9 132.1,115.8 133.3,105.7 131.7,95.7 131.2,94.4 127.1,85.6 122.5,75.5 117.2,65.5 106.8,55.5 103.3,53.4 89.3,49.7 75.3,52.1 68.7,55.5 61.3,60.5 55.9,65.5 47.9,75.5 47.4,76.5 42.1,85.6 41.1,95.7 41.2,105.7 41.1,115.8 41.3,125.8 42.0,135.8 43.4,145.9 46.1,156.0 47.4,159.5 49.8,166.0 55.2,176.1 61.3,181.4 75.3,182.7 89.3,180.1 95.4,176.1 M65.4,35.3 72.0,45.4 61.3,48.8 51.9,55.5 47.4,60.7 44.2,65.5 37.3,75.5 33.4,85.6 19.4,77.4 M19.4,152.4 22.8,145.9 26.1,135.8 28.2,125.8 28.7,115.8 28.8,105.7 31.7,95.7 33.4,85.6 34.0,95.7 35.0,105.7 34.9,115.8 35.0,125.8 35.6,135.8 36.7,145.9 38.9,156.0 41.7,166.0 44.6,176.1 47.4,181.7 51.4,186.1 61.3,189.4 75.3,187.7 84.1,186.1 89.3,184.9 102.8,176.1 103.3,175.6 108.4,166.0 116.2,156.0 117.2,154.5 122.7,145.9 127.7,135.8 131.2,129.6 134.6,125.8 138.6,115.8 139.2,105.7 139.7,95.7 138.7,85.6 134.5,75.5 131.2,68.8 129.8,65.5 121.4,55.5 117.2,52.7 103.3,45.9 100.5,45.4 103.3,44.0 111.0,35.3 M209.1,125.8 202.5,115.8 201.1,115.2 200.4,115.8 197.1,125.8 201.1,132.8 209.1,125.8 M215.1,88.8 201.1,88.5 189.9,85.6 187.1,84.2 176.6,75.5 173.2,72.2 166.8,65.5 164.2,55.5 163.8,45.4 162.1,35.3 M215.1,224.1 201.9,216.3 201.1,215.1 200.9,216.3 195.1,226.3 187.1,233.5 181.5,236.4 173.2,239.8 159.2,242.9 145.2,244.8 131.2,245.3 117.2,245.1 103.3,244.4 89.3,242.7 75.3,238.3 72.3,236.4 64.0,226.3 61.3,220.8 58.0,216.3 57.4,206.2 61.3,204.1 72.7,196.2 75.3,195.3 89.3,191.1 103.3,187.3 106.3,186.1 113.7,176.1 117.2,166.0 124.1,156.0 130.0,145.9 131.2,143.6 137.6,135.8 145.2,128.4 159.2,126.4 173.2,128.9 183.6,135.8 187.1,139.4 191.7,145.9 192.6,156.0 193.1,166.0 195.3,176.1 198.0,186.1 200.5,196.2 201.1,199.5 202.5,196.2 207.9,186.1 213.2,176.1 215.1,171.9 M95.0,256.4 103.3,253.1 117.2,250.6 131.2,253.0 135.5,256.4 M215.1,67.0 201.1,65.5 198.2,55.5 201.1,45.4 190.7,35.3 M145.2,238.4 131.2,239.8 117.2,240.0 103.3,238.7 92.6,236.4 89.3,235.6 75.3,227.1 74.5,226.3 67.2,216.3 66.4,206.2 75.3,199.8 82.5,196.2 89.3,194.0 103.3,190.3 113.6,186.1 117.2,180.1 118.8,176.1 121.8,166.0 128.1,156.0 131.2,150.4 134.1,145.9 143.0,135.8 145.2,133.7 159.2,131.5 173.2,135.0 174.4,135.8 185.4,145.9 187.1,152.3 187.9,156.0 189.0,166.0 191.3,176.1 193.8,186.1 195.9,196.2 197.0,206.2 193.5,216.3 187.1,223.4 183.5,226.3 173.2,232.5 159.2,235.8 155.8,236.4 145.2,238.4 M215.1,208.2 213.3,206.2 213.9,196.2 215.1,192.8 M159.2,230.8 145.2,233.2 131.2,234.7 117.2,235.1 103.3,233.4 89.3,229.4 84.4,226.3 75.3,217.3 74.5,216.3 73.1,206.2 75.3,204.6 89.3,197.1 92.4,196.2 103.3,193.4 117.2,187.9 119.7,186.1 123.5,176.1 126.4,166.0 131.2,157.5 132.2,156.0 138.6,145.9 145.2,138.7 159.2,136.7 173.2,140.5 179.3,145.9 183.2,156.0 185.0,166.0 187.1,175.0 187.4,176.1 189.6,186.1 191.3,196.2 191.6,206.2 187.1,214.8 186.2,216.3 173.2,226.3 159.2,230.8 M145.2,228.6 131.2,230.4 117.2,230.7 103.3,228.5 96.6,226.3 89.3,223.1 81.7,216.3 79.6,206.2 89.3,200.7 103.3,196.4 104.1,196.2 117.2,191.6 124.5,186.1 128.1,176.1 130.9,166.0 131.2,165.5 137.2,156.0 143.0,145.9 145.2,143.5 159.2,141.3 173.2,145.9 178.5,156.0 181.1,166.0 183.5,176.1 185.4,186.1 186.7,196.2 186.3,206.2 179.8,216.3 173.2,221.4 159.2,225.8 156.4,226.3 145.2,228.6 M173.2,216.4 159.2,221.9 145.2,224.5 131.2,226.0 117.2,226.3 103.3,223.1 89.3,216.7 88.7,216.3 86.1,206.2 89.3,204.4 103.3,200.1 114.6,196.2 117.2,195.2 129.4,186.1 131.2,180.7 133.1,176.1 136.8,166.0 142.1,156.0 145.2,150.4 159.2,146.2 173.2,154.6 173.9,156.0 177.1,166.0 179.6,176.1 181.3,186.1 182.4,196.2 181.5,206.2 173.4,216.3 173.2,216.4 M159.2,218.1 145.2,221.0 131.2,221.9 117.2,220.8 103.3,217.2 101.2,216.3 95.4,206.2 103.3,203.8 117.2,199.5 122.1,196.2 131.2,189.2 134.9,186.1 138.9,176.1 142.8,166.0 145.2,160.9 155.2,156.0 159.2,154.6 161.3,156.0 173.2,166.0 175.6,176.1 177.2,186.1 178.2,196.2 176.7,206.2 173.2,210.6 163.8,216.3 159.2,218.1 M145.2,217.5 131.2,217.7 121.9,216.3 117.2,213.7 109.1,206.2 117.2,204.0 128.6,196.2 131.2,194.1 140.8,186.1 144.7,176.1 145.2,174.8 159.2,166.4 168.2,176.1 173.2,186.1 173.9,196.2 173.2,200.2 171.3,206.2 159.2,213.8 150.7,216.3 145.2,217.5 M159.2,209.0 145.2,213.2 131.2,211.7 122.6,206.2 131.2,200.4 136.3,196.2 145.2,188.1 154.5,186.1 159.2,183.5 160.7,186.1 165.7,196.2 163.7,206.2 159.2,209.0 M145.2,208.5 135.3,206.2 145.0,196.2 145.2,196.0 146.2,196.2 152.9,206.2 145.2,208.5" fill="none" stroke="rgba(255,255,255,0.3)" stroke-width="0.7"/>
<path d="M33.4,39.1V254.7M89.3,39.1V254.7M145.2,39.1V254.7M201.1,39.1V254.7M23.0,45.4H209.5M23.0,85.6H209.5M23.0,125.8H209.5M23.0,166.0H209.5M23.0,206.2H209.5M23.0,246.4H209.5" stroke="rgba(80,80,80,0.5)" stroke-width="0.7" stroke-dasharray="1,1.2" fill="none"/>
<text x="33.4" y="259.5" text-anchor="middle" class="tk">0</text>
<text x="89.3" y="259.5" text-anchor="middle" class="tk">2</text>
<text x="145.2" y="259.5" text-anchor="middle" class="tk">4</text>
<text x="201.1" y="259.5" text-anchor="middle" class="tk">6</text>
<text x="22.8" y="47.6" text-anchor="end" class="tk">60</text>
<text x="22.8" y="87.8" text-anchor="end" class="tk">30</text>
<text x="22.8" y="128.0" text-anchor="end" class="tk">15</text>
<text x="22.8" y="168.2" text-anchor="end" class="tk">7.5</text>
<text x="22.8" y="208.4" text-anchor="end" class="tk">3.75</text>
<text x="22.8" y="248.6" text-anchor="end" class="tk">1.88</text>
</svg>
<div class="hm" style="left:237.91px;top:36.68px;width:186.78px;height:214.05px">
<i style="top:0px;background:linear-gradient(90deg,#fffdfd 0px,#fbfefb 22px,#ebfceb 37px,#c3f7c3 53px,#9ef39e 68px,#88f188 85px,#7ff07f 111px,#89f189 121px,#a7f4a7 131px,#fcfefc 149px,#fffdfd 150px,#ee9d9d 167px,#eb7a7b 176px,#eb6f71 183px,#eb7172 187px)"></i>
<i style="top:2px;background:linear-gradient(90deg,#fffdfd 0px,#fbfefb 23px,#ecfcec 38px,#a9f4a9 68px,#94f294 86px,#8bf18b 112px,#96f296 122px,#b4f5b4 132px,#fefefd 149px,#ed9697 168px,#eb797a 176px,#eb6e6f 183px,#eb7071 187px)"></i>
<i style="top:4px;background:linear-gradient(90deg,#fffdfd 0px,#fbfefb 26px,#ecfcec 41px,#b6f5b6 69px,#a3f3a3 90px,#9df39d 113px,#a9f4a9 123px,#c9f8c9 134px,#fdfefd 147px,#fbeded 151px,#ed9091 169px,#eb7677 177px,#eb6e6f 184px,#eb7071 187px)"></i>
<i style="top:6px;background:linear-gradient(90deg,#fffdfd 0px,#fbfefb 29px,#ebfceb 45px,#c5f7c5 70px,#b5f5b5 94px,#b1f5b1 115px,#c1f7c1 126px,#ecfcec 140px,#fdfefc 145px,#f7dcdc 153px,#ec8c8d 170px,#eb7374 179px,#eb7071 186px,#eb7172 187px)"></i>
<i style="top:8px;background:linear-gradient(90deg,#fffdfd 0px,#fbfefb 33px,#e4fbe4 54px,#cdf8cd 78px,#c3f7c3 113px,#cef8ce 124px,#f1fdf1 138px,#fdfefc 142px,#fdf4f4 145px,#efa8a9 163px,#ec7f80 174px,#eb7172 182px,#eb7374 187px)"></i>
<i style="top:10px;background:linear-gradient(90deg,#fffefe 0px,#fbfefb 36px,#dcfadc 77px,#d4f9d4 114px,#e1fbe1 126px,#fcfefc 138px,#fdf7f7 141px,#f1b6b7 159px,#ec8687 172px,#eb7576 181px,#eb7576 187px)"></i>
<i style="top:12px;background:linear-gradient(90deg,#fffefe 0px,#fcfefc 40px,#e7fce7 79px,#e5fbe5 116px,#f5fef5 129px,#fdfdfb 134px,#fae8e8 142px,#f0afaf 160px,#ec8283 174px,#eb7778 183px,#eb7879 187px)"></i>
<i style="top:14px;background:linear-gradient(90deg,#fffefe 0px,#fcfefc 48px,#f3fdf3 88px,#f7fef7 118px,#fdfcfb 127px,#fae8e9 137px,#f0b2b2 158px,#ec8485 174px,#eb7a7b 183px,#eb7c7d 187px)"></i>
<i style="top:16px;background:linear-gradient(90deg,#ffffff 0px,#fefafa 112px,#faeaeb 128px,#f1b5b6 155px,#ec8787 174px,#eb7e7f 184px,#ec7f80 187px)"></i>
<i style="top:18px;background:linear-gradient(90deg,#ffffff 0px,#fcf1f1 85px,#f9e2e2 121px,#f2bdbe 147px,#ec8687 176px,#ec8283 186px,#ec8283 187px)"></i>
<i style="top:20px;background:linear-gradient(90deg,#ffffff 0px,#fdf6f6 43px,#f5cece 124px,#efa7a8 156px,#ec8788 177px,#ec8586 187px)"></i>
<i style="top:22px;background:linear-gradient(90deg,#fefffe 0px,#fdf8f8 30px,#f0b2b2 140px,#ec8889 179px,#ec8788 187px)"></i>
<i style="top:24px;background:linear-gradient(90deg,#fefffe 0px,#fefafa 23px,#f8e1e1 58px,#f1b7b7 113px,#ed9899 160px,#ec8989 182px,#ec898a 187px)"></i>
<i style="top:26px;background:linear-gradient(90deg,#fefffe 0px,#fefbfb 20px,#f9e4e4 50px,#f0b1b2 103px,#ee9d9e 142px,#ec898a 184px,#ec8a8b 187px)"></i>
<i style="top:28px;background:linear-gradient(90deg,#fdfffd 0px,#fefbfc 17px,#f9e4e4 46px,#efaaab 98px,#ed9798 129px,#ec8a8b 187px)"></i>
<i style="top:30px;background:linear-gradient(90deg,#fdfffd 0px,#fefcfc 15px,#f9e2e2 44px,#eea2a3 95px,#ec8e8f 124px,#ec898a 187px)"></i>
<i style="top:32px;background:linear-gradient(90deg,#fdfffd 0px,#fefcfc 14px,#f8dfdf 43px,#ee9a9b 93px,#ec8485 121px,#ec8889 187px)"></i>
<i style="top:34px;background:linear-gradient(90deg,#fdfffd 0px,#fefcfc 13px,#f7dcdc 42px,#ed9394 91px,#eb7b7c 119px,#eb7d7e 143px,#ec8788 187px)"></i>
<i style="top:36px;background:linear-gradient(90deg,#fdfffd 0px,#fefcfc 13px,#f7d8d8 42px,#ec8b8c 90px,#eb7374 117px,#eb7374 137px,#ec8586 185px,#ec8586 187px)"></i>
<i style="top:38px;background:linear-gradient(90deg,#fdfffd 0px,#fefcfc 12px,#f7d9d9 39px,#ec8586 89px,#eb6a6b 116px,#eb6a6b 134px,#ec8384 183px,#ec8384 187px)"></i>
<i style="top:40px;background:linear-gradient(90deg,#fdfffd 0px,#fefcfc 12px,#f6d6d6 39px,#eb7e7f 89px,#eb6364 115px,#eb6163 132px,#ec8182 182px,#ec8081 187px)"></i>
<i style="top:42px;background:linear-gradient(90deg,#fcfffc 0px,#fffdfd 11px,#f7dbdb 35px,#eb7677 90px,#eb5b5d 115px,#eb5b5c 132px,#eb7e7f 182px,#eb7e7f 187px)"></i>
<i style="top:44px;background:linear-gradient(90deg,#fcfffc 0px,#fffdfd 11px,#f7dbdb 34px,#eb7273 89px,#eb5657 114px,#ec5355 130px,#eb6f70 164px,#eb7c7d 183px,#eb7b7c 187px)"></i>
<i style="top:46px;background:linear-gradient(90deg,#fcfffc 0px,#fefdfd 11px,#f7dadb 34px,#eb7071 88px,#ec5152 113px,#ec4e4f 129px,#eb696a 162px,#eb797a 181px,#eb797a 187px)"></i>
<i style="top:48px;background:linear-gradient(90deg,#fcfffc 0px,#fffdfd 11px,#f8dddd 33px,#eb7071 86px,#ec4d4f 112px,#ec484a 128px,#eb6364 160px,#eb7677 180px,#eb7677 187px)"></i>
<i style="top:50px;background:linear-gradient(90deg,#fcfffc 0px,#fffdfd 11px,#f8dede 33px,#eb6f70 86px,#ec4b4c 111px,#ed4446 127px,#eb5b5d 157px,#eb7374 180px,#eb7374 187px)"></i>
<i style="top:52px;background:linear-gradient(90deg,#fcfffc 0px,#fffdfd 11px,#f8dfe0 33px,#ed9394 69px,#eb6061 94px,#ed4445 116px,#ed4244 131px,#eb5e5f 162px,#eb7071 181px,#eb6f70 187px)"></i>
<i style="top:54px;background:linear-gradient(90deg,#fcfffc 0px,#fefcfc 12px,#f8e0e0 34px,#ee9e9f 65px,#eb6162 93px,#ed4244 115px,#ed3f40 130px,#eb595a 161px,#eb6b6d 180px,#eb6b6c 187px)"></i>
<i style="top:56px;background:linear-gradient(90deg,#fcfffc 0px,#fefdfd 12px,#f9e2e2 34px,#f0aeaf 59px,#eb6062 93px,#ed4042 115px,#ee3c3d 129px,#eb5455 160px,#eb6869 180px,#eb6769 187px)"></i>
<i style="top:58px;background:linear-gradient(90deg,#fcfffc 0px,#fefdfd 12px,#f9e5e5 34px,#f1b6b6 57px,#eb5f60 94px,#ed3f40 115px,#ee393b 129px,#ec5152 160px,#eb6465 180px,#eb6465 187px)"></i>
<i style="top:60px;background:linear-gradient(90deg,#fcfffc 0px,#fefcfd 13px,#f9e6e6 35px,#f1b7b7 58px,#eb6061 94px,#ed3e3f 115px,#ee3839 129px,#ec4e4f 160px,#eb6162 181px,#eb6061 187px)"></i>
<i style="top:62px;background:linear-gradient(90deg,#fcfffc 0px,#fefdfd 13px,#faeaea 34px,#f3c3c4 54px,#eb6062 94px,#ed3d3e 115px,#ee3638 129px,#ec4b4d 160px,#eb5e5f 181px,#eb5d5e 187px)"></i>
<i style="top:64px;background:linear-gradient(90deg,#fcfffc 0px,#fefdfd 14px,#faebeb 35px,#f3c2c2 56px,#eb5f60 95px,#ee3c3e 115px,#ef3536 129px,#ec494b 160px,#eb5b5c 181px,#eb5a5c 187px)"></i>
<i style="top:66px;background:linear-gradient(90deg,#fcfffc 0px,#fffdfd 14px,#fbeded 35px,#f4c7c7 55px,#ec8b8c 78px,#eb5d5f 96px,#ee3a3c 116px,#ef3435 130px,#ec484a 161px,#eb595a 181px,#eb5859 187px)"></i>
<i style="top:68px;background:linear-gradient(90deg,#fcfffc 0px,#fefdfd 15px,#fbeeee 35px,#f4c9ca 55px,#ed9394 76px,#eb6061 95px,#ee3b3c 115px,#ef3334 129px,#ed4647 160px,#eb5759 181px,#eb5658 187px)"></i>
<i style="top:70px;background:linear-gradient(90deg,#fcfffc 0px,#fefdfd 16px,#fbeeee 36px,#f4caca 56px,#ed9899 75px,#eb6364 94px,#ee3b3c 115px,#ef3234 128px,#ed4244 157px,#eb5657 181px,#eb5556 187px)"></i>
<i style="top:72px;background:linear-gradient(90deg,#fcfffc 0px,#fefcfd 17px,#fbefef 36px,#f5cccd 56px,#ee9e9e 74px,#eb6465 94px,#ee3c3e 114px,#ef3234 127px,#ed3f40 154px,#eb5556 181px,#eb5455 187px)"></i>
<i style="top:74px;background:linear-gradient(90deg,#fcfffc 0px,#fefcfc 18px,#fbefef 37px,#f4cbcb 58px,#eea0a1 74px,#eb6869 93px,#ed3d3e 114px,#ef3234 127px,#ed3e40 154px,#eb5455 181px,#ec5354 187px)"></i>
<i style="top:76px;background:linear-gradient(90deg,#fcfffc 0px,#fefcfc 19px,#fbefef 38px,#f4cbcc 59px,#efa3a4 74px,#eb696a 93px,#ed3e3f 114px,#ef3334 127px,#ed3e40 154px,#ec5354 181px,#ec5254 187px)"></i>
<i style="top:78px;background:linear-gradient(90deg,#fdfffd 0px,#fefcfc 21px,#fbeeee 40px,#f5cccd 60px,#efa6a7 74px,#eb6b6c 93px,#ed3f40 114px,#ef3335 127px,#ed3e40 154px,#ec5354 181px,#ec5253 187px)"></i>
<i style="top:80px;background:linear-gradient(90deg,#fdfffd 0px,#fefcfc 23px,#fbeded 42px,#f5cdce 61px,#efa6a7 75px,#eb6d6e 93px,#ed4041 114px,#ef3436 127px,#ed3f40 154px,#ec5354 181px,#ec5253 187px)"></i>
<i style="top:82px;background:linear-gradient(90deg,#fdfffd 0px,#fefcfc 25px,#fbebeb 45px,#f5cccd 63px,#eea2a3 77px,#eb6d6e 94px,#ed4143 114px,#ef3537 127px,#ed3f41 154px,#ec5354 182px,#ec5253 187px)"></i>
<i style="top:84px;background:linear-gradient(90deg,#fdfffd 0px,#fefcfc 28px,#fae7e8 50px,#f4c9c9 66px,#eb6f70 94px,#ed4244 114px,#ee3638 127px,#ed4042 154px,#ec5355 182px,#ec5254 187px)"></i>
<i style="top:86px;background:linear-gradient(90deg,#fdfffd 0px,#fefbfb 32px,#f9e5e5 54px,#f4c7c8 68px,#eb7475 93px,#ed4445 114px,#ee3739 127px,#ed4143 154px,#eb5455 182px,#ec5354 187px)"></i>
<i style="top:88px;background:linear-gradient(90deg,#fdfffd 0px,#fefcfc 34px,#f9e6e6 56px,#f4c8c9 69px,#eb7778 93px,#ed4647 114px,#ee383a 127px,#ed4243 153px,#eb5556 182px,#eb5455 187px)"></i>
<i style="top:90px;background:linear-gradient(90deg,#fdfffd 0px,#fefcfc 38px,#fae8e8 57px,#f5cdcd 69px,#eb7b7c 93px,#ec4849 114px,#ee3a3c 126px,#ed4042 147px,#eb5658 182px,#eb5657 187px)"></i>
<i style="top:92px;background:linear-gradient(90deg,#fdfffd 0px,#fefcfc 42px,#fae9e9 59px,#f4cbcc 71px,#eb7e7f 93px,#ec4a4b 114px,#ee3c3e 126px,#ed4143 146px,#eb585a 182px,#eb5759 187px)"></i>
<i style="top:94px;background:linear-gradient(90deg,#fdfffd 0px,#fbfefb 26px,#fefcfc 47px,#fae8e9 62px,#f4c9ca 73px,#ec8283 93px,#ec4c4e 114px,#ed3e3f 126px,#ed4344 145px,#eb5b5c 182px,#eb5a5b 187px)"></i>
<i style="top:96px;background:linear-gradient(90deg,#fdfffd 0px,#fcfefc 20px,#fbfefb 40px,#fefcfc 52px,#fae7e7 65px,#f2bcbc 78px,#ec8485 94px,#ec4f50 114px,#ed4041 126px,#ed4546 145px,#eb5d5e 182px,#eb5c5d 187px)"></i>
<i style="top:98px;background:linear-gradient(90deg,#fdfffd 0px,#fcfefc 18px,#f7fef7 38px,#fffdfd 55px,#fae7e7 67px,#ec8586 95px,#ec5153 114px,#ed4244 125px,#ed4547 142px,#eb6061 182px,#eb5f60 187px)"></i>
<i style="top:100px;background:linear-gradient(90deg,#fefffe 0px,#fbfefb 17px,#f4fdf4 38px,#fefdfd 59px,#f9e3e3 70px,#ec8c8d 94px,#eb5455 114px,#ed4546 125px,#ec4748 141px,#eb6263 182px,#eb6162 187px)"></i>
<i style="top:102px;background:linear-gradient(90deg,#fefffe 0px,#fcfefc 16px,#f2fdf2 37px,#fbfefb 57px,#fefcfc 62px,#f8dede 73px,#ed9192 94px,#eb5758 114px,#ec4748 125px,#ec494b 141px,#eb6566 182px,#eb6465 187px)"></i>
<i style="top:104px;background:linear-gradient(90deg,#fefffe 0px,#fcfefc 15px,#effdef 37px,#f7fef7 57px,#fffdfd 64px,#f7dbdc 75px,#ed9293 95px,#eb595b 114px,#ec494a 125px,#ec4b4c 140px,#eb6768 182px,#eb6667 187px)"></i>
<i style="top:106px;background:linear-gradient(90deg,#fefffe 0px,#fcfffc 14px,#edfced 37px,#f4fdf4 57px,#fefdfd 66px,#f5d1d1 79px,#ec8d8e 98px,#eb595b 115px,#ec4b4c 125px,#ec4d4e 140px,#eb696a 182px,#eb6869 187px)"></i>
<i style="top:108px;background:linear-gradient(90deg,#fefffe 0px,#fcfffc 14px,#ebfceb 37px,#f1fdf1 57px,#fffefe 67px,#f6d2d2 80px,#eb797a 105px,#eb5657 118px,#ec4b4d 129px,#eb5d5e 161px,#eb6b6c 182px,#eb6a6b 187px)"></i>
<i style="top:110px;background:linear-gradient(90deg,#fefffe 0px,#fcfefc 14px,#e9fce9 37px,#edfced 56px,#fffdfd 69px,#ec8b8c 101px,#eb5f60 115px,#ec4f50 125px,#ec5152 139px,#eb6d6e 182px,#eb6c6d 187px)"></i>
<i style="top:112px;background:linear-gradient(90deg,#fefffe 0px,#fcfffc 13px,#e7fbe7 37px,#eafcea 56px,#fbfefb 68px,#fffefe 70px,#ec8889 103px,#eb5f60 116px,#ec5152 126px,#eb5557 141px,#eb6f70 182px,#eb6e6f 187px)"></i>
<i style="top:114px;background:linear-gradient(90deg,#fefffe 0px,#fcfffc 13px,#e6fbe6 36px,#e7fce7 56px,#f7fef7 68px,#fefffe 71px,#f5cecf 85px,#eb6768 114px,#eb5557 123px,#eb5455 135px,#eb7071 182px,#eb7071 187px)"></i>
<i style="top:116px;background:linear-gradient(90deg,#fefffe 0px,#fcfffc 13px,#e4fbe4 36px,#e5fbe5 56px,#f6fef6 69px,#fffefe 73px,#ec898a 105px,#eb6263 117px,#eb5557 126px,#eb5a5b 140px,#eb7273 182px,#eb7273 187px)"></i>
<i style="top:118px;background:linear-gradient(90deg,#fefffe 0px,#fcfefc 13px,#e2fbe2 36px,#e2fbe2 56px,#f3fdf3 69px,#fefefe 74px,#ee9e9f 101px,#eb6a6b 115px,#eb595a 124px,#eb5a5b 136px,#eb7374 178px,#eb7374 187px)"></i>
<i style="top:120px;background:linear-gradient(90deg,#fefffe 0px,#fcfffc 12px,#e1fbe1 36px,#e0fae0 56px,#f0fdf0 69px,#fefffe 75px,#f5cccd 90px,#eb6c6e 115px,#eb5b5c 124px,#eb5c5d 136px,#eb7172 169px,#eb7576 187px)"></i>
<i style="top:122px;background:linear-gradient(90deg,#fefffe 0px,#fcfffc 12px,#dffadf 36px,#defade 56px,#edfced 69px,#fffefe 77px,#f0b0b0 99px,#eb7273 114px,#eb5e5f 123px,#eb5d5e 134px,#eb6e70 160px,#eb7778 187px)"></i>
<i style="top:124px;background:linear-gradient(90deg,#fefffe 0px,#fcfffc 12px,#defade 36px,#dbfadb 55px,#e9fce9 68px,#fefefe 78px,#f1b8b9 98px,#eb7475 114px,#eb6162 122px,#eb5d5f 132px,#eb6f71 158px,#eb7879 187px)"></i>
<i style="top:126px;background:linear-gradient(90deg,#fefffe 0px,#fcfffc 12px,#dcfadc 36px,#d9fad9 55px,#e8fce8 69px,#fefffe 79px,#f3c0c1 97px,#eb7678 114px,#eb6263 122px,#eb5f60 132px,#eb7172 157px,#eb797a 187px)"></i>
<i style="top:128px;background:linear-gradient(90deg,#fefffe 0px,#fcfffc 12px,#dbfadb 36px,#d7f9d7 55px,#e5fbe5 69px,#fefffe 80px,#f7dbdb 91px,#efa8a9 103px,#eb7576 115px,#eb6263 123px,#eb6062 133px,#eb7172 156px,#eb7a7b 187px)"></i>
<i style="top:130px;background:linear-gradient(90deg,#fefffe 0px,#fcfefc 12px,#d9fad9 36px,#d5f9d5 55px,#e3fbe3 69px,#fffdfd 82px,#f3c3c3 98px,#eb7a7b 114px,#eb6465 122px,#eb6062 132px,#eb7273 156px,#eb7b7c 187px)"></i>
<i style="top:132px;background:linear-gradient(90deg,#fefffe 0px,#fcfefc 12px,#d8f9d8 36px,#d3f9d3 55px,#e1fbe1 69px,#fffdfd 83px,#f3c5c6 98px,#eb7b7c 114px,#eb6566 122px,#eb6062 131px,#eb7273 157px,#eb7b7c 187px)"></i>
<i style="top:134px;background:linear-gradient(90deg,#fefffe 0px,#fbfefb 12px,#d6f9d6 36px,#d1f9d1 55px,#defade 69px,#fefffe 83px,#f5d1d1 96px,#eb7c7d 114px,#eb6566 122px,#eb6062 131px,#eb7374 158px,#eb7b7c 187px)"></i>
<i style="top:136px;background:linear-gradient(90deg,#fefffe 0px,#fdfffd 11px,#d5f9d5 36px,#cff8cf 55px,#dcfadc 69px,#fefffe 84px,#f5cfcf 97px,#eb7c7d 114px,#eb6667 122px,#eb6062 131px,#eb7374 159px,#eb7b7c 187px)"></i>
<i style="top:138px;background:linear-gradient(90deg,#fefffe 0px,#fdfffd 11px,#d3f9d3 36px,#cdf8cd 54px,#d9fad9 68px,#fafefa 83px,#fffffe 85px,#f4cccc 98px,#eb7d7e 114px,#eb6667 122px,#eb6062 131px,#eb7475 162px,#eb7b7c 187px)"></i>
<i style="top:140px;background:linear-gradient(90deg,#fefffe 0px,#fcfffc 11px,#d2f9d2 36px,#ccf8cc 54px,#d7f9d7 68px,#f8fef8 83px,#fffefe 86px,#f5cece 98px,#eb7e7f 114px,#eb6667 122px,#eb6062 131px,#eb7778 168px,#eb7b7c 187px)"></i>
<i style="top:142px;background:linear-gradient(90deg,#fefffe 0px,#fcfffc 11px,#d2f9d2 36px,#cbf8cb 54px,#d6f9d6 68px,#f6fef6 83px,#fefffe 86px,#f6d5d5 97px,#ec7f80 114px,#eb6668 122px,#eb6062 131px,#eb7b7c 176px,#eb7c7d 187px)"></i>
<i style="top:144px;background:linear-gradient(90deg,#fefffe 0px,#fcfffc 11px,#d1f9d1 36px,#caf8ca 54px,#d5f9d5 68px,#f4fdf4 83px,#fffffe 87px,#f6d2d3 98px,#ec7f80 114px,#eb6768 122px,#eb6062 131px,#eb7d7e 181px,#eb7d7e 187px)"></i>
<i style="top:146px;background:linear-gradient(90deg,#fefffe 0px,#fcfffc 11px,#d1f8d1 36px,#c9f8c9 54px,#d4f9d4 68px,#f2fdf2 83px,#fffefe 88px,#f6d5d5 98px,#ec8182 114px,#eb6769 122px,#eb6162 131px,#ec7f80 182px,#eb7e7f 187px)"></i>
<i style="top:148px;background:linear-gradient(90deg,#fefffe 0px,#fcfffc 11px,#d1f9d1 36px,#c9f8c9 54px,#d5f9d5 69px,#f3fdf3 84px,#fefffe 88px,#f9e6e6 95px,#ec8283 114px,#eb6a6b 121px,#eb6162 130px,#ec8182 182px,#ec8081 187px)"></i>
<i style="top:150px;background:linear-gradient(90deg,#fefffe 0px,#fcfffc 11px,#d1f9d1 36px,#caf8ca 55px,#d6f9d6 70px,#f3fdf3 85px,#fefffe 89px,#f8dfdf 97px,#ec8384 114px,#eb6b6c 121px,#eb6163 130px,#ec8485 182px,#ec8384 187px)"></i>
<i style="top:152px;background:linear-gradient(90deg,#ffffff 0px,#fcfffc 11px,#d2f9d2 36px,#caf8ca 55px,#d5f9d5 70px,#f1fdf1 85px,#fffffe 90px,#f8dddd 98px,#ec8485 114px,#eb6b6c 121px,#eb6163 130px,#eb7677 160px,#ec8788 181px,#ec8687 187px)"></i>
<i style="top:154px;background:linear-gradient(90deg,#ffffff 0px,#fdfffd 11px,#d3f9d3 36px,#cbf8cb 55px,#d7f9d7 71px,#f2fdf2 86px,#fffefe 91px,#f7dada 99px,#ec8586 114px,#eb6c6d 121px,#eb6263 130px,#eb7374 156px,#ec8a8b 180px,#ec898a 187px)"></i>
<i style="top:156px;background:linear-gradient(90deg,#ffffff 0px,#fbfefb 12px,#d4f9d4 36px,#ccf8cc 56px,#d9fad9 73px,#f2fdf2 87px,#fffdfd 92px,#f6d7d7 100px,#ec8687 114px,#eb6c6d 121px,#eb6263 130px,#eb7071 152px,#ec8d8e 180px,#ec8c8d 187px)"></i>
<i style="top:158px;background:linear-gradient(90deg,#ffffff 0px,#fbfefb 12px,#d5f9d5 37px,#cef8ce 57px,#ddfadd 76px,#f6fef6 89px,#fefffe 92px,#faeaea 97px,#ec8788 114px,#eb6d6e 121px,#eb6264 130px,#eb6c6e 147px,#ec8182 165px,#ed9192 180px,#ed9091 187px)"></i>
<i style="top:160px;background:linear-gradient(90deg,#ffffff 0px,#fcfefc 12px,#d6f9d6 37px,#cff8cf 57px,#defade 77px,#f6fef6 90px,#fffffe 93px,#f7dcdc 100px,#ec898a 114px,#eb6e6f 121px,#eb6364 130px,#eb6c6d 146px,#ec8081 163px,#ed9596 179px,#ed9495 187px)"></i>
<i style="top:162px;background:linear-gradient(90deg,#ffffff 0px,#fcfffc 12px,#d8f9d8 37px,#d1f8d1 58px,#e0fae0 79px,#f7fef7 91px,#fffdfd 94px,#f6d2d2 102px,#ec8a8b 114px,#eb7071 121px,#eb6465 130px,#eb6c6d 145px,#ec7e7f 161px,#ed9899 178px,#ed9899 187px)"></i>
<i style="top:164px;background:linear-gradient(90deg,#ffffff 0px,#fcfffc 12px,#d9fad9 38px,#d2f9d2 59px,#e1fbe1 80px,#f9fef9 92px,#ffffff 94px,#f6d4d5 102px,#ec8d8d 114px,#eb7273 121px,#eb6667 130px,#eb6d6e 145px,#ec7f80 160px,#ee9d9d 178px,#ee9c9d 187px)"></i>
<i style="top:166px;background:linear-gradient(90deg,#ffffff 0px,#fbfefb 13px,#dafada 38px,#d3f9d3 59px,#e2fbe2 81px,#f8fef8 92px,#fefffe 94px,#fcf3f3 97px,#ec8a8b 115px,#eb7273 122px,#eb6869 131px,#eb7172 148px,#ec8384 161px,#eea1a2 178px,#eea0a1 187px)"></i>
<i style="top:168px;background:linear-gradient(90deg,#ffffff 0px,#fbfefb 13px,#dcfadc 38px,#d5f9d5 60px,#e3fbe3 82px,#fafefa 93px,#fffefe 95px,#f3c6c6 105px,#ec8d8e 115px,#eb7576 122px,#eb6a6c 132px,#eb7677 151px,#ed9393 167px,#efa6a7 179px,#efa5a5 187px)"></i>
<i style="top:170px;background:linear-gradient(90deg,#ffffff 0px,#fbfefb 13px,#ddfadd 39px,#d6f9d6 61px,#e4fbe4 82px,#f9fef9 93px,#fffefe 95px,#f4c8c8 105px,#ed9192 115px,#eb797a 122px,#eb6e6f 132px,#eb7677 149px,#ec898a 161px,#efa9aa 177px,#f0abac 185px,#efa9aa 187px)"></i>
<i style="top:172px;background:linear-gradient(90deg,#ffffff 0px,#fcfefc 13px,#defade 40px,#d7f9d7 62px,#e4fbe4 82px,#fcfffc 94px,#fffefe 95px,#f3c4c5 106px,#ed9091 116px,#eb7b7c 123px,#eb7172 134px,#eb7b7c 152px,#ee9d9d 168px,#f0b0b1 179px,#f0aeaf 187px)"></i>
<i style="top:174px;background:linear-gradient(90deg,#ffffff 0px,#fbfefb 14px,#dffadf 41px,#d8f9d8 62px,#e5fbe5 82px,#fffefe 95px,#f4c7c7 106px,#ed9596 116px,#ec8081 123px,#eb7576 134px,#eb7d7e 151px,#ed9798 164px,#f1b3b4 177px,#f1b6b6 185px,#f1b3b4 187px)"></i>
<i style="top:176px;background:linear-gradient(90deg,#ffffff 0px,#fbfefb 14px,#dffadf 43px,#d9fad9 63px,#e7fce7 83px,#fffefe 95px,#f3c4c4 107px,#ed9697 117px,#ec8283 125px,#eb797a 137px,#ec8283 153px,#f1b9b9 177px,#f2bbbc 185px,#f1b8b9 187px)"></i>
<i style="top:178px;background:linear-gradient(90deg,#ffffff 0px,#fbfefb 14px,#dffadf 46px,#dbfadb 65px,#eafcea 84px,#fffdfd 95px,#f2bdbd 109px,#ed9596 119px,#ec8283 130px,#eb7e7f 144px,#ec898a 155px,#f2bebf 177px,#f3c1c2 184px,#f2bebe 187px)"></i>
<i style="top:180px;background:linear-gradient(90deg,#ffffff 0px,#fbfefb 15px,#dffadf 50px,#ddfadd 67px,#edfced 85px,#fefffe 94px,#f9e5e5 101px,#efa4a5 116px,#ec8e8f 125px,#ec8283 138px,#ec8889 152px,#efa3a4 164px,#f3c3c4 177px,#f4c7c7 184px,#f3c3c4 187px)"></i>
<i style="top:182px;background:linear-gradient(90deg,#fffefe 0px,#fbfefb 15px,#defade 55px,#e1fbe1 72px,#f5fdf5 89px,#ffffff 94px,#f5d1d1 106px,#efa3a4 118px,#ec8d8e 130px,#ec8788 144px,#ed9192 155px,#f4c9c9 177px,#f5cccd 184px,#f4c8c9 187px)"></i>
<i style="top:184px;background:linear-gradient(90deg,#fffefe 0px,#fbfefb 16px,#dffadf 59px,#e7fbe7 78px,#fffefe 94px,#f4cbcc 108px,#efa6a7 119px,#ed9091 133px,#ec8d8e 147px,#ed9899 156px,#f5cece 177px,#f5d1d2 184px,#f5cdce 187px)"></i>
<i style="top:186px;background:linear-gradient(90deg,#fffefe 0px,#fbfefb 17px,#e0fbe0 60px,#eafcea 79px,#fffefe 94px,#f0acad 119px,#ed9697 134px,#ed9394 148px,#ee9fa0 157px,#f5d1d1 176px,#f6d6d6 184px,#f6d2d2 187px)"></i>
<i style="top:188px;background:linear-gradient(90deg,#fffefe 0px,#fafefa 18px,#e3fbe3 61px,#edfced 80px,#ffffff 93px,#f8dcdd 105px,#f0b2b3 119px,#ee9c9d 135px,#ee9a9b 149px,#efaaab 159px,#f6d5d6 176px,#f7dada 184px,#f6d6d6 187px)"></i>
<i style="top:190px;background:linear-gradient(90deg,#fffefe 0px,#fafefa 20px,#e5fbe5 62px,#f1fdf1 82px,#ffffff 93px,#f5d0d0 110px,#f1b4b4 122px,#eea2a2 139px,#efa4a5 152px,#f2bdbe 164px,#f7dbdb 177px,#f8ddde 185px,#f7dbdb 187px)"></i>
<i style="top:192px;background:linear-gradient(90deg,#ffffff 0px,#f9fef9 23px,#e8fce8 63px,#f5fdf5 84px,#fffefe 93px,#f2bebf 120px,#efabac 139px,#f0adae 152px,#f4c9ca 166px,#f8e1e1 178px,#f8e0e1 186px,#f8dfdf 187px)"></i>
<i style="top:194px;background:linear-gradient(90deg,#ffffff 0px,#f8fef8 28px,#ecfcec 65px,#fbfefb 88px,#fefdfd 93px,#f3c5c5 121px,#f1b5b5 141px,#f2baba 154px,#f9e5e5 178px,#f9e4e5 186px,#f9e3e3 187px)"></i>
<i style="top:196px;background:linear-gradient(90deg,#ffffff 0px,#f5fef5 41px,#f0fdf0 67px,#fffdfd 92px,#f5cccd 122px,#f2bfc0 143px,#f4c6c7 156px,#fae9e9 178px,#fae7e7 187px)"></i>
<i style="top:198px;background:linear-gradient(90deg,#ffffff 0px,#f4fdf4 68px,#fffefe 90px,#f6d3d3 124px,#f4cacb 145px,#f6d4d4 159px,#fbeded 179px,#fbebeb 187px)"></i>
<i style="top:200px;background:linear-gradient(90deg,#ffffff 0px,#f7fef7 69px,#fffdfd 89px,#f7dada 126px,#f6d6d6 149px,#faeaea 171px,#fcf0f0 184px,#fbefef 187px)"></i>
<i style="top:202px;background:linear-gradient(90deg,#ffffff 0px,#fbfefb 71px,#fefdfd 87px,#f8e1e1 129px,#f9e1e1 154px,#fcf3f3 182px,#fcf2f2 187px)"></i>
<i style="top:204px;background:linear-gradient(90deg,#ffffff 0px,#fefffe 74px,#fbeff0 110px,#fae7e8 143px,#fdf5f5 185px,#fdf5f5 187px)"></i>
<i style="top:206px;background:linear-gradient(90deg,#ffffff 0px,#fefcfc 81px,#fbeeee 135px,#fdf7f7 187px)"></i>
<i style="top:208px;background:linear-gradient(90deg,#ffffff 0px,#fefbfb 79px,#fcf3f3 139px,#fef9f9 187px)"></i>
<i style="top:210px;background:linear-gradient(90deg,#ffffff 0px,#fefafa 81px,#fdf5f5 148px,#fefafa 187px)"></i>
<i style="top:212px;background:linear-gradient(90deg,#ffffff 0px,#fefbfb 79px,#fcf4f4 150px,#fefbfb 187px)"></i>
<i style="top:214px;background:linear-gradient(90deg,#ffffff 0px,#fefcfc 80px,#fbeeef 150px,#fefbfb 185px,#fefafa 187px)"></i>
</div>
<svg class="ov" width="676" height="276">
<clipPath id="cpb"><rect x="246.40" y="36.68" width="169.80" height="214.05"/></clipPath>
<path clip-path="url(#cpb)" d="M308.6,32.9 317.1,36.8 331.3,39.2 345.4,40.6 359.6,36.6 362.3,32.9 M296.9,32.9 303.0,38.4 314.7,43.0 317.1,43.4 331.3,44.4 345.4,44.9 359.6,43.9 362.2,43.0 369.3,32.9 M287.4,32.9 288.9,34.8 296.9,43.0 303.0,45.0 317.1,46.8 331.3,47.4 345.4,47.7 359.6,46.7 370.6,43.0 373.8,37.8 375.6,32.9 M299.5,194.1 303.0,184.0 291.6,173.9 288.9,172.2 284.8,173.9 274.7,184.0 282.5,194.1 288.9,198.5 299.5,194.1 M276.9,32.9 282.8,43.0 288.9,46.0 303.0,49.4 317.1,50.2 331.3,50.4 345.4,50.5 359.6,49.6 373.8,45.4 377.6,43.0 380.9,32.9 M312.1,224.3 317.1,219.7 319.5,214.2 321.0,204.1 319.3,194.1 317.1,185.7 316.5,184.0 311.8,173.9 305.9,163.8 303.0,159.4 294.5,153.8 288.9,150.0 274.7,149.9 270.7,153.8 265.1,163.8 261.8,173.9 260.6,184.0 262.0,194.1 265.5,204.1 271.4,214.2 274.7,217.8 284.1,224.3 288.9,226.4 303.0,228.1 312.1,224.3 M430.4,236.4 424.4,234.3 416.2,231.0 411.4,234.3 402.1,238.7 387.9,241.4 373.8,241.5 359.6,240.3 346.3,234.3 345.4,233.7 339.8,224.3 338.1,214.2 336.9,204.1 335.0,194.1 332.6,184.0 331.3,178.1 329.8,173.9 325.3,163.8 318.7,153.8 317.1,151.4 311.3,143.7 304.0,133.6 303.0,132.2 292.0,123.6 288.9,119.2 283.6,113.5 278.4,103.4 274.7,98.0 270.6,93.3 266.8,83.3 272.7,73.2 274.7,71.6 288.9,63.5 289.7,63.1 303.0,60.1 317.1,58.5 331.3,57.4 345.4,56.7 359.6,55.6 372.6,53.1 373.8,52.8 387.9,45.2 389.6,43.0 391.4,32.9 M372.6,254.5 373.8,254.0 387.9,252.9 391.0,254.5 M430.4,226.7 425.4,224.3 416.2,219.1 410.7,224.3 402.1,230.4 391.2,234.3 387.9,235.3 373.8,235.2 369.0,234.3 359.6,232.6 348.5,224.3 345.4,218.4 344.0,214.2 341.7,204.1 339.7,194.1 337.6,184.0 335.7,173.9 332.7,163.8 331.3,161.2 326.1,153.8 319.2,143.7 317.1,140.6 311.9,133.6 305.0,123.6 303.0,119.9 297.6,113.5 292.0,103.4 288.9,98.6 284.9,93.3 281.3,83.3 288.9,74.2 289.8,73.2 303.0,66.8 316.7,63.1 317.1,63.1 331.3,61.2 345.4,60.1 359.6,59.0 373.8,56.9 385.4,53.1 387.9,51.8 394.9,43.0 396.5,32.9 M430.4,216.2 426.6,214.2 416.2,209.1 410.4,214.2 402.1,222.1 399.7,224.3 387.9,229.7 373.8,229.6 359.6,225.9 357.4,224.3 350.2,214.2 346.6,204.1 345.4,198.8 344.5,194.1 342.6,184.0 341.0,173.9 338.5,163.8 333.2,153.8 331.3,150.9 326.1,143.7 319.5,133.6 317.1,129.8 312.8,123.6 307.6,113.5 303.0,103.4 296.5,93.3 293.9,83.3 303.0,74.8 305.2,73.2 317.1,68.9 331.3,65.6 345.4,63.6 349.3,63.1 359.6,62.3 373.8,61.1 387.9,58.3 395.5,53.1 400.2,43.0 401.7,32.9 M430.4,204.1 416.2,198.3 409.1,204.1 402.1,210.8 399.1,214.2 387.9,224.3 373.8,224.1 359.6,218.3 356.4,214.2 351.8,204.1 349.7,194.1 348.0,184.0 346.4,173.9 345.4,169.7 344.2,163.8 339.5,153.8 333.1,143.7 331.3,141.1 326.4,133.6 320.4,123.6 317.1,116.4 315.7,113.5 311.7,103.4 307.0,93.3 306.0,83.3 317.1,75.4 321.7,73.2 331.3,70.6 345.4,68.1 359.6,66.5 373.8,65.7 387.9,64.9 396.6,63.1 402.1,59.7 405.4,53.1 406.3,43.0 408.7,32.9 M418.1,32.9 429.8,43.0 416.2,52.2 413.0,43.0 415.8,32.9 M430.4,187.0 416.2,184.0 402.7,194.1 402.1,194.6 395.0,204.1 387.9,213.3 385.0,214.2 373.8,215.7 369.9,214.2 359.6,209.2 357.0,204.1 355.0,194.1 353.8,184.0 352.7,173.9 350.9,163.8 345.9,153.8 345.4,153.0 340.1,143.7 333.6,133.6 331.3,129.9 327.7,123.6 323.5,113.5 320.4,103.4 317.1,94.1 316.8,93.3 317.1,90.0 318.0,83.3 331.3,76.4 342.1,73.2 345.4,72.5 359.6,70.9 373.8,70.9 387.9,71.8 398.9,73.2 402.1,73.9 416.2,78.5 430.4,76.6 M430.4,147.7 416.2,143.7 402.1,152.4 399.2,153.8 387.9,159.4 381.6,163.8 379.7,173.9 380.8,184.0 380.2,194.1 373.8,203.3 364.5,194.1 359.6,184.0 359.0,173.9 357.9,163.8 354.0,153.8 347.8,143.7 345.4,140.4 341.5,133.6 335.7,123.6 331.3,113.5 329.1,103.4 327.2,93.3 331.3,83.3 345.4,78.4 359.6,76.0 373.8,76.7 387.9,79.4 398.4,83.3 402.1,85.3 416.2,92.9 430.4,90.4 M430.4,128.3 416.2,123.6 403.7,133.6 402.1,134.6 387.9,143.7 373.8,150.5 359.6,148.3 357.2,143.7 350.9,133.6 345.4,125.6 344.4,123.6 340.7,113.5 339.1,103.4 339.2,93.3 345.4,86.1 351.5,83.3 359.6,81.8 373.8,83.1 374.6,83.3 387.9,88.7 396.0,93.3 402.1,98.2 410.2,103.4 416.2,112.4 430.4,104.6 M373.8,132.3 359.6,129.1 356.5,123.6 352.4,113.5 351.7,103.4 356.6,93.3 359.6,91.8 371.8,93.3 373.8,93.8 387.9,103.4 391.7,113.5 387.9,123.6 373.8,132.3" fill="none" stroke="rgba(255,255,255,0.3)" stroke-width="0.7"/>
<path d="M246.4,36.7V252.7M303.0,36.7V252.7M359.6,36.7V252.7M416.2,36.7V252.7M235.9,43.0H424.7M235.9,83.3H424.7M235.9,123.6H424.7M235.9,163.8H424.7M235.9,204.1H424.7M235.9,244.4H424.7" stroke="rgba(80,80,80,0.5)" stroke-width="0.7" stroke-dasharray="1,1.2" fill="none"/>
<text x="246.4" y="257.5" text-anchor="middle" class="tk">0</text>
<text x="303.0" y="257.5" text-anchor="middle" class="tk">2</text>
<text x="359.6" y="257.5" text-anchor="middle" class="tk">4</text>
<text x="416.2" y="257.5" text-anchor="middle" class="tk">6</text>
<text x="235.7" y="45.2" text-anchor="end" class="tk">60</text>
<text x="235.7" y="85.5" text-anchor="end" class="tk">30</text>
<text x="235.7" y="125.8" text-anchor="end" class="tk">15</text>
<text x="235.7" y="166.0" text-anchor="end" class="tk">7.5</text>
<text x="235.7" y="206.3" text-anchor="end" class="tk">3.75</text>
<text x="235.7" y="246.6" text-anchor="end" class="tk">1.88</text>
</svg>
<div class="hm" style="left:443.11px;top:36.47px;width:186.78px;height:214.15px">
<i style="top:0px;background:linear-gradient(90deg,#ffffff 0px,#f8fef8 24px,#effdef 59px,#fffefe 80px,#f8e1e1 93px,#f1b4b4 104px,#eb7273 119px,#ec4a4c 134px,#f41a1c 161px,#f41a1c 187px)"></i>
<i style="top:2px;background:linear-gradient(90deg,#ffffff 0px,#f9fef9 23px,#effdef 58px,#fffdfd 80px,#f8e0e0 93px,#f1b3b4 104px,#eb7273 119px,#ec4a4c 134px,#f41a1c 161px,#f41a1c 187px)"></i>
<i style="top:4px;background:linear-gradient(90deg,#ffffff 0px,#f9fef9 23px,#f0fdf0 58px,#fffefe 79px,#f9e1e2 92px,#f1b7b7 103px,#eb7173 119px,#ec4a4c 134px,#f41a1c 161px,#f41a1c 187px)"></i>
<i style="top:6px;background:linear-gradient(90deg,#ffffff 0px,#f8fef8 24px,#f0fdf0 59px,#fffefe 78px,#f8e0e0 92px,#f1b5b6 103px,#eb7072 119px,#ec494b 134px,#f41a1c 161px,#f41a1c 187px)"></i>
<i style="top:8px;background:linear-gradient(90deg,#ffffff 0px,#f8fef8 25px,#f1fdf1 59px,#fffefe 77px,#f8e1e1 91px,#f2bcbd 101px,#eb7274 118px,#ec4d4e 132px,#f41a1c 160px,#f41a1c 187px)"></i>
<i style="top:10px;background:linear-gradient(90deg,#ffffff 0px,#f8fef8 27px,#f2fdf2 60px,#fffefe 76px,#f9e1e2 90px,#f2bebf 100px,#eb7172 118px,#ec4b4d 132px,#f41a1c 160px,#f41a1c 187px)"></i>
<i style="top:12px;background:linear-gradient(90deg,#ffffff 0px,#f2fdf2 59px,#fffefe 75px,#f8dfdf 90px,#f1b7b8 101px,#eb6e6f 118px,#ec4c4d 131px,#f41a1c 160px,#f41a1c 187px)"></i>
<i style="top:14px;background:linear-gradient(90deg,#ffffff 0px,#f4fdf4 60px,#fffefe 74px,#f8dfdf 89px,#f1b9b9 100px,#eb6c6d 118px,#ec4a4b 131px,#f41a1c 159px,#f41a1c 187px)"></i>
<i style="top:16px;background:linear-gradient(90deg,#ffffff 0px,#f5fdf5 60px,#fffdfd 73px,#f8dedf 88px,#f2baba 99px,#eb696a 118px,#ec4849 131px,#f41a1c 159px,#f41a1c 187px)"></i>
<i style="top:18px;background:linear-gradient(90deg,#ffffff 0px,#f6fef6 60px,#fffefe 71px,#f8dede 87px,#f1b6b7 99px,#eb6768 118px,#ed4647 131px,#f41a1c 158px,#f41a1c 187px)"></i>
<i style="top:20px;background:linear-gradient(90deg,#ffffff 0px,#f7fef7 60px,#fffefe 70px,#f8dddd 86px,#f0b3b3 99px,#eb6465 118px,#ed4445 131px,#f41a1c 158px,#f41a1c 187px)"></i>
<i style="top:22px;background:linear-gradient(90deg,#ffffff 0px,#f8fef8 60px,#fffdfd 69px,#f7dcdc 85px,#f0afaf 99px,#eb6163 118px,#ed4244 131px,#f41a1c 157px,#f41a1c 187px)"></i>
<i style="top:24px;background:linear-gradient(90deg,#ffffff 0px,#fafefa 60px,#fffefe 67px,#f8dddd 83px,#f0aeaf 98px,#eb5f60 118px,#ed4042 131px,#f41a1c 157px,#f41a1c 187px)"></i>
<i style="top:26px;background:linear-gradient(90deg,#ffffff 0px,#fbfefb 60px,#fffdfd 66px,#f7dbdc 82px,#efa6a7 99px,#eb5d5e 118px,#ed3d3f 132px,#f41a1c 156px,#f41a1c 187px)"></i>
<i style="top:28px;background:linear-gradient(90deg,#ffffff 0px,#fdfffd 60px,#fefcfc 65px,#f7dcdc 80px,#ee9d9e 100px,#eb5b5c 118px,#ee3c3e 132px,#f41a1c 156px,#f41a1c 187px)"></i>
<i style="top:30px;background:linear-gradient(90deg,#ffffff 0px,#fefffe 59px,#fefafa 65px,#f7dada 79px,#ed9091 102px,#eb5657 119px,#ee383a 134px,#f41a1c 156px,#f41a1c 187px)"></i>
<i style="top:32px;background:linear-gradient(90deg,#fefffe 0px,#fffdfd 61px,#f9e6e6 73px,#ec8081 105px,#ec4f50 121px,#f02f31 140px,#f41a1c 156px,#f41a1c 187px)"></i>
<i style="top:34px;background:linear-gradient(90deg,#fefffe 0px,#fefdfd 59px,#faeaea 70px,#eb7879 106px,#ec4b4c 122px,#f41a1c 154px,#f41a1c 187px)"></i>
<i style="top:36px;background:linear-gradient(90deg,#fefffe 0px,#fefdfd 57px,#fbecec 68px,#f0aeaf 87px,#eb5758 116px,#ee393a 132px,#f41a1c 155px,#f41a1c 187px)"></i>
<i style="top:38px;background:linear-gradient(90deg,#fefffe 0px,#fefcfc 55px,#fbeded 66px,#f3c4c5 79px,#ec8889 97px,#ec4e4f 119px,#f02d2f 140px,#f41a1c 155px,#f41a1c 187px)"></i>
<i style="top:40px;background:linear-gradient(90deg,#fefffe 0px,#fefcfc 52px,#fbeeef 64px,#f5cece 75px,#ec8a8b 94px,#ec5052 117px,#ef3132 137px,#f41a1c 155px,#f41a1c 187px)"></i>
<i style="top:42px;background:linear-gradient(90deg,#fefffe 0px,#fefcfc 49px,#fbefef 62px,#f6d5d5 72px,#ec8889 93px,#ec5052 116px,#f02f31 138px,#f41a1c 155px,#f41a1c 187px)"></i>
<i style="top:44px;background:linear-gradient(90deg,#fefffe 0px,#fefcfc 45px,#fcf0f0 60px,#f7d8d8 70px,#ec8687 92px,#eb5456 113px,#ef3234 135px,#f41a1c 155px,#f41a1c 187px)"></i>
<i style="top:46px;background:linear-gradient(90deg,#fefffe 0px,#fefdfd 42px,#fbeeef 59px,#f7d7d8 69px,#ec8283 92px,#eb5456 112px,#ef3032 136px,#f41a1c 155px,#f41a1c 187px)"></i>
<i style="top:48px;background:linear-gradient(90deg,#fdfffd 0px,#fefdfd 40px,#fbeded 58px,#f6d3d4 69px,#ec7f80 92px,#eb5556 111px,#ef3031 136px,#f41a1c 154px,#f41a1c 187px)"></i>
<i style="top:50px;background:linear-gradient(90deg,#fdfffd 0px,#fefcfc 40px,#fae9e9 58px,#f5cfd0 69px,#eb7d7e 92px,#ec5455 111px,#f02e30 137px,#f41a1c 154px,#f41a1c 187px)"></i>
<i style="top:52px;background:linear-gradient(90deg,#fdfffd 0px,#fefcfc 39px,#fae7e8 57px,#f4cbcb 69px,#eb7b7c 92px,#ec5152 112px,#f02b2d 139px,#f41a1c 154px,#f41a1c 187px)"></i>
<i style="top:54px;background:linear-gradient(90deg,#fdfffd 0px,#fefdfd 38px,#f9e4e4 57px,#f3c4c4 70px,#eb7a7b 92px,#ec4f50 113px,#f12729 142px,#f41a1c 153px,#f41a1c 187px)"></i>
<i style="top:56px;background:linear-gradient(90deg,#fdfffd 0px,#fffdfd 37px,#f9e4e4 55px,#f2bcbd 71px,#eb7677 93px,#ec494b 116px,#f41a1c 152px,#f41a1c 187px)"></i>
<i style="top:58px;background:linear-gradient(90deg,#fcfffc 0px,#fdfffd 24px,#fffdfd 37px,#f8e0e1 55px,#f1b5b6 72px,#eb7677 93px,#ed4547 118px,#f41a1c 152px,#f41a1c 187px)"></i>
<i style="top:60px;background:linear-gradient(90deg,#fcfffc 0px,#fdfffd 21px,#fefdfd 37px,#f8dfe0 54px,#efa9a9 75px,#eb7172 95px,#ed3d3f 123px,#f41a1c 152px,#f41a1c 187px)"></i>
<i style="top:62px;background:linear-gradient(90deg,#fcfffc 0px,#fdfffd 19px,#fefcfc 37px,#f8dfdf 53px,#ee9a9b 79px,#eb6869 99px,#ee3739 127px,#f41a1c 152px,#f41a1c 187px)"></i>
<i style="top:64px;background:linear-gradient(90deg,#fcfffc 0px,#fefffe 18px,#fefcfc 37px,#f8dfdf 52px,#eb7273 94px,#ed3d3f 123px,#f41a1c 152px,#f41a1c 187px)"></i>
<i style="top:66px;background:linear-gradient(90deg,#fcfefc 0px,#fefffe 18px,#fffdfd 36px,#f9e2e2 50px,#eb7475 93px,#ed3d3e 123px,#f41a1c 152px,#f41a1c 187px)"></i>
<i style="top:68px;background:linear-gradient(90deg,#fcfefc 0px,#fefffe 17px,#fefdfd 36px,#f8e1e1 50px,#eb7677 92px,#ed3d3f 123px,#f41a1c 152px,#f41a1c 187px)"></i>
<i style="top:70px;background:linear-gradient(90deg,#fbfefb 0px,#fefffe 17px,#fefdfd 36px,#f9e2e2 49px,#eb7a7b 90px,#ed4042 121px,#f41a1c 152px,#f41a1c 187px)"></i>
<i style="top:72px;background:linear-gradient(90deg,#fbfefb 0px,#fefffe 17px,#fefcfc 36px,#f8e1e1 49px,#ec8c8d 82px,#ec5152 111px,#f1282a 140px,#f41a1c 152px,#f41a1c 187px)"></i>
<i style="top:74px;background:linear-gradient(90deg,#fbfefb 0px,#fefffe 17px,#fefcfc 36px,#f8e0e1 49px,#ed9798 77px,#eb5a5b 106px,#f02f30 135px,#f41a1c 153px,#f41a1c 187px)"></i>
<i style="top:76px;background:linear-gradient(90deg,#fbfefb 0px,#fefffe 17px,#fffdfd 35px,#f9e5e5 47px,#eea0a0 73px,#eb6061 103px,#ef3233 133px,#f41a1c 153px,#f41a1c 187px)"></i>
<i style="top:78px;background:linear-gradient(90deg,#fbfefb 0px,#fefffe 17px,#fffdfd 35px,#f9e5e5 47px,#efa4a4 71px,#eb6263 102px,#ef3234 133px,#f41a1c 153px,#f41a1c 187px)"></i>
<i style="top:80px;background:linear-gradient(90deg,#fbfefb 0px,#fefffe 17px,#fefdfd 35px,#f9e4e4 47px,#efa5a6 70px,#eb6264 102px,#ef3233 134px,#f41a1c 154px,#f41a1c 187px)"></i>
<i style="top:82px;background:linear-gradient(90deg,#fbfefb 0px,#fefffe 17px,#fefcfc 35px,#f9e3e4 47px,#efa7a8 69px,#eb6364 102px,#ef3133 135px,#f41a1c 154px,#f41a1c 187px)"></i>
<i style="top:84px;background:linear-gradient(90deg,#fbfefb 0px,#fefffe 17px,#fefcfc 35px,#f9e3e3 47px,#efa6a7 69px,#eb6163 103px,#ef3032 136px,#f41a1c 154px,#f41a1c 187px)"></i>
<i style="top:86px;background:linear-gradient(90deg,#fbfefb 0px,#fefffe 17px,#fefdfd 34px,#fae8e8 45px,#efa8a8 68px,#eb6263 103px,#ef3031 137px,#f41a1c 155px,#f41a1c 187px)"></i>
<i style="top:88px;background:linear-gradient(90deg,#fbfefb 0px,#fefffe 17px,#fefcfc 34px,#fae7e7 45px,#efa7a8 68px,#eb5d5e 106px,#f02b2d 141px,#f41a1c 155px,#f41a1c 187px)"></i>
<i style="top:90px;background:linear-gradient(90deg,#fbfefb 0px,#fefffe 18px,#fefcfc 34px,#fae6e6 45px,#efa8a9 67px,#eb5c5d 107px,#f1292b 143px,#f41a1c 155px,#f41a1c 187px)"></i>
<i style="top:92px;background:linear-gradient(90deg,#fbfefb 0px,#fefffe 18px,#fefcfc 33px,#fae8e8 44px,#efa8a8 67px,#eb5657 111px,#f41a1c 155px,#f41a1c 187px)"></i>
<i style="top:94px;background:linear-gradient(90deg,#fbfefb 0px,#fefffe 19px,#fefcfc 33px,#fae8e8 44px,#efa7a8 67px,#ec4d4e 117px,#f41a1c 155px,#f41a1c 187px)"></i>
<i style="top:96px;background:linear-gradient(90deg,#fbfefb 0px,#fefffe 19px,#fefbfb 33px,#fae7e7 44px,#efa9a9 66px,#ec4a4c 119px,#f41a1c 155px,#f41a1c 187px)"></i>
<i style="top:98px;background:linear-gradient(90deg,#fbfefb 0px,#ffffff 20px,#fefbfb 33px,#f9e6e6 44px,#efa8a9 66px,#ec494a 120px,#f41a1c 156px,#f41a1c 187px)"></i>
<i style="top:100px;background:linear-gradient(90deg,#fbfefb 0px,#ffffff 22px,#fdf8f8 35px,#f8e0e0 46px,#efa8a8 66px,#ec4849 121px,#f41a1c 156px,#f41a1c 187px)"></i>
<i style="top:102px;background:linear-gradient(90deg,#fbfefb 0px,#ffffff 23px,#fdf6f6 36px,#f7d9da 48px,#efa7a8 66px,#ec484a 121px,#f41a1c 156px,#f41a1c 187px)"></i>
<i style="top:104px;background:linear-gradient(90deg,#fbfefb 0px,#ffffff 22px,#fdf5f5 36px,#f7d9d9 48px,#efa7a7 66px,#ec4849 122px,#f41a1c 157px,#f41a1c 187px)"></i>
<i style="top:106px;background:linear-gradient(90deg,#fbfefb 0px,#ffffff 21px,#fdf6f6 35px,#f7dbdc 47px,#efa6a7 66px,#ec4748 123px,#f41a1c 157px,#f41a1c 187px)"></i>
<i style="top:108px;background:linear-gradient(90deg,#fbfefb 0px,#fffefe 20px,#fdf6f6 35px,#f7dbdb 47px,#efa6a7 66px,#ec4849 123px,#f41a1c 157px,#f41a1c 187px)"></i>
<i style="top:110px;background:linear-gradient(90deg,#fbfefb 0px,#fffefe 20px,#fdf6f6 35px,#f7dbdb 47px,#efa8a9 65px,#ec484a 123px,#f41a1c 158px,#f41a1c 187px)"></i>
<i style="top:112px;background:linear-gradient(90deg,#fbfefb 0px,#fffefe 19px,#fdf7f7 34px,#f8e0e0 45px,#efa8a8 65px,#ec4849 124px,#f41a1c 158px,#f41a1c 187px)"></i>
<i style="top:114px;background:linear-gradient(90deg,#fbfefb 0px,#fffefe 19px,#fdf6f6 34px,#f8e0e0 45px,#efa7a8 65px,#ec4749 125px,#f41a1c 159px,#f41a1c 187px)"></i>
<i style="top:116px;background:linear-gradient(90deg,#fbfefb 0px,#fffefe 18px,#fdf6f6 34px,#f8dfdf 45px,#efa7a8 65px,#ec484a 125px,#f41a1c 159px,#f41a1c 187px)"></i>
<i style="top:118px;background:linear-gradient(90deg,#fbfefb 0px,#fffefe 18px,#fdf6f6 34px,#f8dfdf 45px,#efa7a8 65px,#ec4849 126px,#f41a1c 159px,#f41a1c 187px)"></i>
<i style="top:120px;background:linear-gradient(90deg,#fbfefb 0px,#fffefe 18px,#fdf5f6 34px,#f8dfdf 45px,#efa7a8 65px,#ec4849 127px,#f41a1c 160px,#f41a1c 187px)"></i>
<i style="top:122px;background:linear-gradient(90deg,#fbfefb 0px,#fffefe 17px,#fdf6f7 33px,#f9e1e2 44px,#efa8a8 65px,#ec4749 128px,#f41a1c 160px,#f41a1c 187px)"></i>
<i style="top:124px;background:linear-gradient(90deg,#fbfefb 0px,#fffefe 17px,#fdf5f5 34px,#f8dfdf 45px,#efa8a9 65px,#ec494a 128px,#f41a1c 161px,#f41a1c 187px)"></i>
<i style="top:126px;background:linear-gradient(90deg,#fbfefb 0px,#fffefe 17px,#fdf5f5 34px,#f7dcdc 46px,#efa8a9 65px,#ec494a 129px,#f41a1c 162px,#f41a1c 187px)"></i>
<i style="top:128px;background:linear-gradient(90deg,#fbfefb 0px,#fffefe 17px,#fdf5f5 34px,#f7dcdc 46px,#efa9aa 65px,#ec484a 130px,#f41a1c 163px,#f41a1c 187px)"></i>
<i style="top:130px;background:linear-gradient(90deg,#fbfefb 0px,#fffefe 17px,#fdf5f5 34px,#f7dcdc 46px,#efaaab 65px,#ec4a4b 130px,#f31e1f 160px,#f41a1c 167px,#f41a1c 187px)"></i>
<i style="top:132px;background:linear-gradient(90deg,#fbfefb 0px,#fffefe 17px,#fdf4f5 34px,#f8dcdd 46px,#efabac 65px,#ec4a4b 131px,#f31f21 160px,#f41a1c 165px,#f41a1c 187px)"></i>
<i style="top:134px;background:linear-gradient(90deg,#fcfefc 0px,#fffefe 17px,#fdf4f4 34px,#f8dddd 46px,#efaaab 66px,#ec4a4b 132px,#f22324 159px,#f41a1c 166px,#f41a1c 187px)"></i>
<i style="top:136px;background:linear-gradient(90deg,#fcfefc 0px,#fffdfd 17px,#fdf4f4 34px,#f8dddd 46px,#f0acac 66px,#eb6869 112px,#f22426 159px,#f41a1c 166px,#f41a1c 187px)"></i>
<i style="top:138px;background:linear-gradient(90deg,#fcfefc 0px,#fffdfd 17px,#fdf4f4 34px,#f7dbdb 47px,#f0adae 66px,#eb6f70 109px,#f1282a 158px,#f41a1c 167px,#f41a1c 187px)"></i>
<i style="top:140px;background:linear-gradient(90deg,#fcfffc 0px,#fffdfd 18px,#fcf3f3 35px,#f6d6d7 49px,#f0adad 67px,#eb7576 106px,#ec494a 137px,#f12628 160px,#f41a1c 168px,#f41a1c 187px)"></i>
<i style="top:142px;background:linear-gradient(90deg,#fcfffc 0px,#fffdfd 18px,#fcf3f3 35px,#f6d7d7 49px,#f0aeaf 67px,#eb797a 105px,#ec4d4f 135px,#f02c2e 158px,#f41a1c 169px,#f41a1c 187px)"></i>
<i style="top:144px;background:linear-gradient(90deg,#fcfffc 0px,#fffdfd 18px,#fcf3f3 35px,#f7d8d8 49px,#f0b0b0 67px,#eb7d7e 104px,#ec5052 134px,#f02e30 158px,#f41a1c 170px,#f41a1c 187px)"></i>
<i style="top:146px;background:linear-gradient(90deg,#fcfffc 0px,#fffdfd 18px,#fcf2f2 36px,#f5d1d1 52px,#f0aeaf 69px,#ec8081 103px,#eb5455 133px,#ef3234 157px,#f41a1c 172px,#f41a1c 187px)"></i>
<i style="top:148px;background:linear-gradient(90deg,#fcfffc 0px,#fffdfd 19px,#fcf2f2 36px,#f6d2d2 52px,#f0b0b1 69px,#ec8384 103px,#eb5557 134px,#ef3335 158px,#f41a1c 173px,#f41a1c 187px)"></i>
<i style="top:150px;background:linear-gradient(90deg,#fcfffc 0px,#fffdfd 19px,#fcf2f2 36px,#f5d1d1 53px,#f0b0b1 70px,#ec8586 103px,#eb5758 135px,#ef3537 158px,#f41a1c 174px,#f41a1c 187px)"></i>
<i style="top:152px;background:linear-gradient(90deg,#fcfffc 0px,#fefdfd 20px,#fcf1f2 37px,#f1b4b4 69px,#ec8687 104px,#eb5456 139px,#ef3435 160px,#f41a1c 176px,#f41a1c 187px)"></i>
<i style="top:154px;background:linear-gradient(90deg,#fcfffc 0px,#fefdfd 21px,#fcf1f1 38px,#f1b6b6 69px,#ec8788 105px,#ee3a3b 158px,#f31c1e 176px,#f41a1c 187px)"></i>
<i style="top:156px;background:linear-gradient(90deg,#fcfffc 0px,#fefdfd 21px,#fcf1f1 38px,#f1b7b8 69px,#ec8889 106px,#ee3c3e 158px,#f31f21 176px,#f41b1d 187px)"></i>
<i style="top:158px;background:linear-gradient(90deg,#fcfffc 0px,#fefdfd 22px,#fcf0f0 39px,#f1b9ba 69px,#ec8889 108px,#ed4143 157px,#f22123 176px,#f31e20 187px)"></i>
<i style="top:160px;background:linear-gradient(90deg,#fdfffd 0px,#fefcfc 23px,#fbefef 40px,#f2bcbc 69px,#ec8787 111px,#ed4446 157px,#f12527 176px,#f22123 187px)"></i>
<i style="top:162px;background:linear-gradient(90deg,#fdfffd 0px,#fefcfc 24px,#fcf0f0 40px,#f2bdbd 70px,#ec8485 115px,#ed4647 158px,#f1282a 176px,#f12527 187px)"></i>
<i style="top:164px;background:linear-gradient(90deg,#fdfffd 0px,#fefcfc 25px,#fbefef 41px,#f2bfbf 70px,#ec8182 120px,#ec4a4b 158px,#f02b2d 177px,#f1292b 187px)"></i>
<i style="top:166px;background:linear-gradient(90deg,#fdfffd 0px,#fefcfc 26px,#fbeeef 42px,#f3c0c1 71px,#eb7d7e 126px,#ec4c4e 159px,#ef3032 177px,#f02e30 187px)"></i>
<i style="top:168px;background:linear-gradient(90deg,#fdfffd 0px,#fefcfc 27px,#fbeeee 43px,#f3c2c2 72px,#eb797a 133px,#ec5051 160px,#ee3637 177px,#ef3335 187px)"></i>
<i style="top:170px;background:linear-gradient(90deg,#fdfffd 0px,#fefbfb 29px,#fbecec 45px,#f3c4c4 73px,#eb7576 140px,#ec4b4d 166px,#ee3a3c 180px,#ee3a3c 187px)"></i>
<i style="top:172px;background:linear-gradient(90deg,#fdfffd 0px,#fefbfb 30px,#faeaea 47px,#f3c5c5 75px,#eb7273 147px,#ed4345 177px,#ed4143 187px)"></i>
<i style="top:174px;background:linear-gradient(90deg,#fdfffd 0px,#fefbfb 31px,#fae9e9 49px,#f3c4c4 79px,#eb7374 152px,#ec4c4e 176px,#ec494b 187px)"></i>
<i style="top:176px;background:linear-gradient(90deg,#fdfffd 0px,#fefbfb 32px,#fae7e7 52px,#f1b7b7 96px,#eb797a 153px,#eb5556 176px,#ec5253 187px)"></i>
<i style="top:178px;background:linear-gradient(90deg,#fdfffd 0px,#fefbfb 33px,#f9e4e4 56px,#ec8182 153px,#eb5d5e 177px,#eb5b5c 187px)"></i>
<i style="top:180px;background:linear-gradient(90deg,#fefffe 0px,#fefafb 34px,#ec8a8b 153px,#eb6667 177px,#eb6466 187px)"></i>
<i style="top:182px;background:linear-gradient(90deg,#fefffe 0px,#fefafa 35px,#eea2a3 137px,#ec8b8b 158px,#eb6f70 178px,#eb6e6f 187px)"></i>
<i style="top:184px;background:linear-gradient(90deg,#fefffe 0px,#fefafa 36px,#f0acac 133px,#ed9697 156px,#eb7879 178px,#eb7778 187px)"></i>
<i style="top:186px;background:linear-gradient(90deg,#fefffe 0px,#fefafb 37px,#f1b4b4 131px,#eea0a0 155px,#ec8182 178px,#ec8182 187px)"></i>
<i style="top:188px;background:linear-gradient(90deg,#fefffe 0px,#fefbfb 38px,#f2baba 131px,#efa8a8 155px,#ec8b8b 178px,#ec8a8b 187px)"></i>
<i style="top:190px;background:linear-gradient(90deg,#fefffe 0px,#fefafa 40px,#f2c0c0 132px,#f0aeaf 156px,#ed9495 179px,#ed9495 187px)"></i>
<i style="top:192px;background:linear-gradient(90deg,#fefffe 0px,#fefafb 41px,#f3c5c6 135px,#f1b6b6 157px,#ee9e9f 179px,#ee9e9f 187px)"></i>
<i style="top:194px;background:linear-gradient(90deg,#fefffe 0px,#fefafa 43px,#f3c0c1 155px,#efa9a9 180px,#efa9aa 187px)"></i>
<i style="top:196px;background:linear-gradient(90deg,#fefffe 0px,#fefbfb 45px,#f4c9c9 155px,#f1b3b4 180px,#f1b4b4 187px)"></i>
<i style="top:198px;background:linear-gradient(90deg,#ffffff 0px,#fefbfb 48px,#f5d1d1 155px,#f2bebe 181px,#f2bebf 187px)"></i>
<i style="top:200px;background:linear-gradient(90deg,#ffffff 0px,#fefafa 52px,#f7d8d8 156px,#f4c8c8 182px,#f4c8c9 187px)"></i>
<i style="top:202px;background:linear-gradient(90deg,#ffffff 0px,#fefafa 58px,#f8dede 157px,#f5d1d2 184px,#f6d2d2 187px)"></i>
<i style="top:204px;background:linear-gradient(90deg,#ffffff 0px,#fefafa 66px,#f9e4e4 158px,#f7dada 185px,#f7dada 187px)"></i>
<i style="top:206px;background:linear-gradient(90deg,#ffffff 0px,#fefafa 77px,#fae9e9 159px,#f8e1e1 187px)"></i>
<i style="top:208px;background:linear-gradient(90deg,#ffffff 0px,#fef9f9 90px,#fbecec 161px,#f9e6e6 187px)"></i>
<i style="top:210px;background:linear-gradient(90deg,#ffffff 0px,#fef9f9 99px,#fbedee 163px,#fae8e8 187px)"></i>
<i style="top:212px;background:linear-gradient(90deg,#ffffff 0px,#fefafa 96px,#fbefef 161px,#fae9e9 187px)"></i>
<i style="top:214px;background:linear-gradient(90deg,#ffffff 0px,#fefafa 85px,#fbeeee 159px,#fae6e7 187px)"></i>
</div>
<svg class="ov" width="676" height="276">
<clipPath id="cpc"><rect x="451.60" y="36.47" width="169.80" height="214.15"/></clipPath>
<path clip-path="url(#cpc)" d="M635.6,243.9 621.4,244.3 607.2,242.9 593.1,240.7 579.0,239.1 564.8,237.7 550.6,235.7 543.0,234.2 536.5,233.1 522.4,229.1 511.5,224.1 508.2,222.3 498.4,214.1 494.1,207.8 491.9,204.0 488.5,193.9 486.6,183.8 485.6,173.8 485.4,163.7 485.6,153.6 486.3,143.6 487.5,133.5 488.9,123.4 490.2,113.3 492.4,103.2 494.1,100.4 498.0,93.2 508.2,83.1 513.6,73.0 522.4,63.2 522.6,62.9 528.7,52.9 533.5,42.8 535.3,32.7 M611.1,254.4 621.4,244.3 635.6,248.7 M635.6,237.3 621.4,238.1 607.2,235.7 601.3,234.2 593.1,232.4 579.0,230.4 564.8,228.4 550.6,225.4 545.8,224.1 536.5,220.9 522.4,214.1 522.4,214.0 508.2,204.0 502.6,193.9 499.3,183.8 497.1,173.8 496.0,163.7 496.0,153.6 496.6,143.6 497.6,133.5 499.0,123.4 500.4,113.3 503.1,103.2 508.2,96.2 510.0,93.2 515.7,83.1 522.4,73.8 522.9,73.0 531.9,62.9 536.5,56.5 538.2,52.9 541.1,42.8 541.8,32.7 M635.6,231.6 621.4,232.4 607.2,229.9 593.1,225.8 584.7,224.1 579.0,222.9 564.8,219.8 550.6,215.0 548.5,214.1 536.5,207.5 530.8,204.0 522.4,196.3 520.0,193.9 512.8,183.8 508.2,175.4 507.7,173.8 505.8,163.7 505.4,153.6 505.9,143.6 506.8,133.5 508.2,123.4 510.0,113.3 512.9,103.2 518.0,93.2 522.4,84.8 523.1,83.1 530.5,73.0 536.5,66.8 539.6,62.9 544.3,52.9 547.3,42.8 547.6,32.7 M635.6,226.7 621.4,227.7 607.2,224.4 606.4,224.1 593.1,219.7 579.0,215.9 572.9,214.1 564.8,210.9 551.2,204.0 550.6,203.6 539.8,193.9 536.5,189.4 531.7,183.8 524.3,173.8 522.4,169.9 519.7,163.7 518.4,153.6 518.4,143.6 518.5,133.5 519.2,123.4 520.2,113.3 522.4,103.5 522.4,103.2 525.8,93.2 529.8,83.1 536.5,74.7 538.0,73.0 545.9,62.9 550.4,52.9 550.6,52.1 553.3,42.8 553.3,32.7 M635.6,221.8 621.4,223.0 607.2,219.2 593.8,214.1 593.1,213.7 579.0,208.4 569.1,204.0 564.8,201.0 555.7,193.9 550.6,188.0 547.3,183.8 541.2,173.8 536.5,163.7 534.0,153.6 532.8,143.6 531.4,133.5 530.7,123.4 530.7,113.3 531.8,103.2 533.4,93.2 536.5,83.1 545.5,73.0 550.6,65.7 552.2,62.9 556.3,52.9 559.0,42.8 558.7,32.7 M635.6,217.1 621.4,218.2 607.4,214.1 607.2,214.0 593.1,207.2 585.4,204.0 579.0,199.1 571.5,193.9 564.8,187.7 561.3,183.8 555.3,173.8 550.9,163.7 550.6,163.0 547.8,153.6 545.9,143.6 544.1,133.5 542.6,123.4 541.7,113.3 541.9,103.2 542.6,93.2 545.9,83.1 550.6,77.0 553.2,73.0 558.5,62.9 562.1,52.9 564.8,42.8 564.2,32.7 M635.6,212.1 621.4,213.4 607.2,208.2 598.8,204.0 593.1,198.3 587.2,193.9 579.0,185.3 577.4,183.8 569.7,173.8 564.8,163.7 561.1,153.6 558.5,143.6 556.6,133.5 555.1,123.4 553.5,113.3 552.9,103.2 553.4,93.2 556.3,83.1 561.4,73.0 564.8,62.9 569.9,52.9 573.4,42.8 572.5,32.7 M635.6,206.8 621.4,208.0 611.0,204.0 607.2,201.3 599.6,193.9 593.1,183.8 584.9,173.8 579.4,163.7 579.0,162.6 575.1,153.6 572.0,143.6 570.0,133.5 568.5,123.4 566.2,113.3 564.8,103.2 565.7,93.2 568.3,83.1 571.8,73.0 575.1,62.9 579.0,53.3 579.1,52.9 582.7,42.8 581.6,32.7 M635.6,199.3 621.4,201.6 610.9,193.9 607.2,189.5 603.5,183.8 597.6,173.8 593.1,163.7 589.0,153.6 586.1,143.6 584.2,133.5 582.8,123.4 580.7,113.3 579.4,103.2 580.4,93.2 582.5,83.1 584.4,73.0 586.8,62.9 590.4,52.9 593.1,42.8 592.3,32.7 M635.6,187.0 621.4,191.2 615.2,183.8 608.0,173.8 607.2,172.3 603.4,163.7 600.4,153.6 598.2,143.6 596.7,133.5 595.5,123.4 593.9,113.3 593.1,103.2 593.9,93.2 595.5,83.1 596.6,73.0 598.1,62.9 600.8,52.9 602.9,42.8 602.3,32.7 M635.6,169.3 625.4,173.8 621.4,175.1 620.4,173.8 615.1,163.7 611.5,153.6 608.8,143.6 607.2,137.1 606.6,133.5 604.9,123.4 602.9,113.3 601.8,103.2 602.9,93.2 604.9,83.1 606.4,73.0 607.2,68.3 608.5,62.9 611.9,52.9 614.7,42.8 614.2,32.7 M635.6,132.2 634.2,133.5 621.4,143.6 618.4,133.5 615.7,123.4 612.7,113.3 611.1,103.2 612.8,93.2 615.7,83.1 618.4,73.0 621.4,62.9 635.6,72.2" fill="none" stroke="rgba(255,255,255,0.3)" stroke-width="0.7"/>
<path d="M451.6,36.5V252.6M508.2,36.5V252.6M564.8,36.5V252.6M621.4,36.5V252.6M441.1,42.8H629.9M441.1,83.1H629.9M441.1,123.4H629.9M441.1,163.7H629.9M441.1,204.0H629.9M441.1,244.3H629.9" stroke="rgba(80,80,80,0.5)" stroke-width="0.7" stroke-dasharray="1,1.2" fill="none"/>
<text x="451.6" y="257.4" text-anchor="middle" class="tk">0</text>
<text x="508.2" y="257.4" text-anchor="middle" class="tk">2</text>
<text x="564.8" y="257.4" text-anchor="middle" class="tk">4</text>
<text x="621.4" y="257.4" text-anchor="middle" class="tk">6</text>
<text x="440.9" y="45.0" text-anchor="end" class="tk">40</text>
<text x="440.9" y="85.3" text-anchor="end" class="tk">20</text>
<text x="440.9" y="125.6" text-anchor="end" class="tk">10</text>
<text x="440.9" y="165.9" text-anchor="end" class="tk">5</text>
<text x="440.9" y="206.2" text-anchor="end" class="tk">2.5</text>
<text x="440.9" y="246.5" text-anchor="end" class="tk">1.25</text>
</svg>
<div class="t" style="left:7.6px;top:2.6px;font-size:11.6px">a)</div>
<div class="t" style="left:67.4px;top:3.1px;font-size:10.5px">FaDu</div>
<div class="t" style="left:58.6px;top:20.8px;font-size:10px;letter-spacing:0.03px">Zip synergy score: 0.007</div>
<div class="t" style="left:258.2px;top:2.6px;font-size:11.6px">b)</div>
<div class="t" style="left:318.6px;top:3.1px;font-size:10.5px">Cal27</div>
<div class="t" style="left:298.4px;top:20.8px;font-size:10px;letter-spacing:0.03px">Zip synergy score: 1.403</div>
<div class="t" style="left:446.3px;top:2.6px;font-size:11.6px">c)</div>
<div class="t" style="left:504.6px;top:3.1px;font-size:10.5px">SCC154</div>
<div class="t" style="left:489px;top:20.8px;font-size:10px;letter-spacing:0.03px">Zip synergy score: 10.973</div>
<div class="yl" style="left:2.5px;top:178px;font-size:12.4px;letter-spacing:0.85px">MK 0752</div>
<div class="yl" style="left:214.5px;top:178.2px;font-size:12.4px;letter-spacing:0.85px">MK 0752</div>
<div class="yl" style="left:425px;top:177.3px;font-size:12.4px;letter-spacing:0.85px">MK 0752</div>
<div class="t" style="left:84px;top:262px;font-size:12.2px;letter-spacing:0.2px">Irradiation</div>
<div class="t" style="left:306.1px;top:259.9px;font-size:12.2px;letter-spacing:0.2px">Irradiation</div>
<div class="t" style="left:509.7px;top:259.5px;font-size:12.2px;letter-spacing:0.2px">Irradiation</div>

<div style="position:absolute;left:644.2px;top:118.6px;width:9.7px;height:47.5px;background:linear-gradient(180deg,#f51616 0%,#f9a0a0 25%,#f2eeee 50%,#9ef09e 75%,#14e614 100%)"></div>
<svg class="ov" width="676" height="276">
<text x="643.8" y="115.3" style="font-size:7px;fill:#333;font-family:'Liberation Sans',sans-serif;letter-spacing:0.05px;word-spacing:0.8px">δ - score</text>
<g style="font-size:6.2px;fill:#333;font-family:'Liberation Sans',sans-serif">
<text x="654.6" y="122.6">20</text><text x="654.6" y="134.1">10</text><text x="654.8" y="145.6">0</text>
<text x="654.2" y="157.2">−10</text><text x="654.2" y="168.6">−20</text></g>
</svg>

</body></html>
